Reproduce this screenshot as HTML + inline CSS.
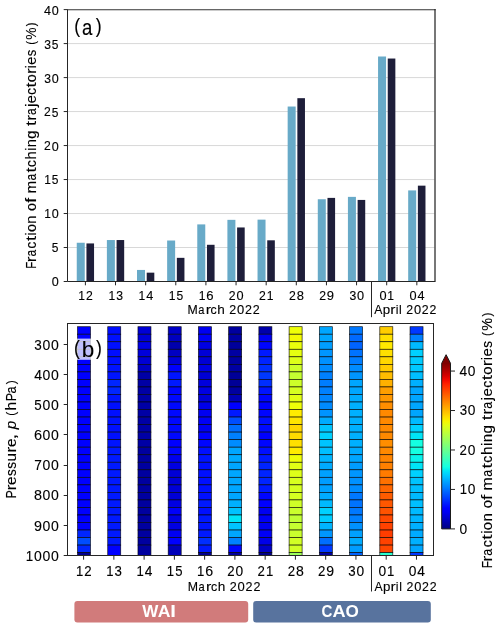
<!DOCTYPE html><html><head><meta charset="utf-8"><style>html,body{margin:0;padding:0;background:#fff;}svg{display:block;will-change:transform;}#w{width:500px;height:628px;overflow:hidden;}</style></head><body><div id="w"><svg width="500" height="628" viewBox="0 0 500 628" font-family="Liberation Sans, sans-serif">
<defs><filter id="bl" x="0" y="0" width="1" height="1"><feGaussianBlur stdDeviation="0.35"/></filter></defs>
<rect width="500" height="628" fill="#fff"/>
<g>
<rect width="500" height="628" fill="#fff"/>
<line x1="67.5" y1="247.51" x2="434.5" y2="247.51" stroke="#d4d4d4" stroke-width="0.9"/>
<line x1="67.5" y1="213.53" x2="434.5" y2="213.53" stroke="#d4d4d4" stroke-width="0.9"/>
<line x1="67.5" y1="179.54" x2="434.5" y2="179.54" stroke="#d4d4d4" stroke-width="0.9"/>
<line x1="67.5" y1="145.55" x2="434.5" y2="145.55" stroke="#d4d4d4" stroke-width="0.9"/>
<line x1="67.5" y1="111.56" x2="434.5" y2="111.56" stroke="#d4d4d4" stroke-width="0.9"/>
<line x1="67.5" y1="77.58" x2="434.5" y2="77.58" stroke="#d4d4d4" stroke-width="0.9"/>
<line x1="67.5" y1="43.59" x2="434.5" y2="43.59" stroke="#d4d4d4" stroke-width="0.9"/>
<rect x="76.75" y="242.75" width="8.0" height="38.75" fill="#68aac8"/>
<rect x="86.45" y="243.43" width="7.6" height="38.07" fill="#1e1e3a"/>
<rect x="106.88" y="240.04" width="8.0" height="41.46" fill="#68aac8"/>
<rect x="116.58" y="240.04" width="7.6" height="41.46" fill="#1e1e3a"/>
<rect x="137.01" y="269.94" width="8.0" height="11.56" fill="#68aac8"/>
<rect x="146.71" y="272.66" width="7.6" height="8.84" fill="#1e1e3a"/>
<rect x="167.14" y="240.51" width="8.0" height="40.99" fill="#68aac8"/>
<rect x="176.84" y="257.84" width="7.6" height="23.66" fill="#1e1e3a"/>
<rect x="197.27" y="224.40" width="8.0" height="57.10" fill="#68aac8"/>
<rect x="206.97" y="244.79" width="7.6" height="36.71" fill="#1e1e3a"/>
<rect x="227.40" y="219.85" width="8.0" height="61.65" fill="#68aac8"/>
<rect x="237.10" y="227.46" width="7.6" height="54.04" fill="#1e1e3a"/>
<rect x="257.53" y="219.64" width="8.0" height="61.86" fill="#68aac8"/>
<rect x="267.23" y="240.31" width="7.6" height="41.19" fill="#1e1e3a"/>
<rect x="287.66" y="106.53" width="8.0" height="174.97" fill="#68aac8"/>
<rect x="297.36" y="98.17" width="7.6" height="183.33" fill="#1e1e3a"/>
<rect x="317.79" y="199.25" width="8.0" height="82.25" fill="#68aac8"/>
<rect x="327.49" y="197.89" width="7.6" height="83.61" fill="#1e1e3a"/>
<rect x="347.92" y="196.87" width="8.0" height="84.63" fill="#68aac8"/>
<rect x="357.62" y="199.93" width="7.6" height="81.57" fill="#1e1e3a"/>
<rect x="378.05" y="56.50" width="8.0" height="225.00" fill="#68aac8"/>
<rect x="387.75" y="58.54" width="7.6" height="222.96" fill="#1e1e3a"/>
<rect x="408.18" y="190.41" width="8.0" height="91.09" fill="#68aac8"/>
<rect x="417.88" y="185.66" width="7.6" height="95.84" fill="#1e1e3a"/>
<path d="M67.5,281.5 V9.6 M67.5,281.5 H435.0" fill="none" stroke="#262626" stroke-width="1"/>
<line x1="67.0" y1="9.75" x2="435.6" y2="9.75" stroke="#333" stroke-width="1.15"/>
<line x1="435.0" y1="9.1" x2="435.0" y2="282.0" stroke="#262626" stroke-width="1.25"/>
<line x1="63.70" y1="281.50" x2="67.5" y2="281.50" stroke="#262626" stroke-width="1"/>
<g fill="#000" stroke="#000" stroke-width="0" font-size="20.0"><text transform="matrix(0.6312,0,0,0.6593,51.64,286.45)" stroke-width="0.186">0</text></g>
<line x1="63.70" y1="247.51" x2="67.5" y2="247.51" stroke="#262626" stroke-width="1"/>
<g fill="#000" stroke="#000" stroke-width="0" font-size="20.0"><text transform="matrix(0.6000,0,0,0.6599,51.78,252.47)" stroke-width="0.190">5</text></g>
<line x1="63.70" y1="213.53" x2="67.5" y2="213.53" stroke="#262626" stroke-width="1"/>
<g fill="#000" stroke="#000" stroke-width="0" font-size="20.0"><text transform="matrix(0.6000,0,0,0.6559,44.15,218.43)" stroke-width="0.191">1</text><text transform="matrix(0.6312,0,0,0.6593,51.64,218.48)" stroke-width="0.186">0</text></g>
<line x1="63.70" y1="179.54" x2="67.5" y2="179.54" stroke="#262626" stroke-width="1"/>
<g fill="#000" stroke="#000" stroke-width="0" font-size="20.0"><text transform="matrix(0.6000,0,0,0.6559,44.15,184.44)" stroke-width="0.191">1</text><text transform="matrix(0.6000,0,0,0.6599,51.78,184.49)" stroke-width="0.190">5</text></g>
<line x1="63.70" y1="145.55" x2="67.5" y2="145.55" stroke="#262626" stroke-width="1"/>
<g fill="#000" stroke="#000" stroke-width="0" font-size="20.0"><text transform="matrix(0.6066,0,0,0.6554,44.02,150.45)" stroke-width="0.190">2</text><text transform="matrix(0.6312,0,0,0.6593,51.64,150.50)" stroke-width="0.186">0</text></g>
<line x1="63.70" y1="111.56" x2="67.5" y2="111.56" stroke="#262626" stroke-width="1"/>
<g fill="#000" stroke="#000" stroke-width="0" font-size="20.0"><text transform="matrix(0.6066,0,0,0.6554,44.02,116.46)" stroke-width="0.190">2</text><text transform="matrix(0.6000,0,0,0.6599,51.78,116.52)" stroke-width="0.190">5</text></g>
<line x1="63.70" y1="77.58" x2="67.5" y2="77.58" stroke="#262626" stroke-width="1"/>
<g fill="#000" stroke="#000" stroke-width="0" font-size="20.0"><text transform="matrix(0.6063,0,0,0.6593,44.14,82.53)" stroke-width="0.190">3</text><text transform="matrix(0.6312,0,0,0.6593,51.64,82.53)" stroke-width="0.186">0</text></g>
<line x1="63.70" y1="43.59" x2="67.5" y2="43.59" stroke="#262626" stroke-width="1"/>
<g fill="#000" stroke="#000" stroke-width="0" font-size="20.0"><text transform="matrix(0.6063,0,0,0.6593,44.14,48.54)" stroke-width="0.190">3</text><text transform="matrix(0.6000,0,0,0.6599,51.78,48.54)" stroke-width="0.190">5</text></g>
<line x1="63.70" y1="9.60" x2="67.5" y2="9.60" stroke="#262626" stroke-width="1"/>
<g fill="#000" stroke="#000" stroke-width="0" font-size="20.0"><text transform="matrix(0.6297,0,0,0.6559,44.08,14.50)" stroke-width="0.187">4</text><text transform="matrix(0.6312,0,0,0.6593,51.64,14.55)" stroke-width="0.186">0</text></g>
<line x1="85.40" y1="281.5" x2="85.40" y2="285.30" stroke="#262626" stroke-width="1"/>
<g fill="#000" stroke="#000" stroke-width="0" font-size="20.0"><text transform="matrix(0.6050,0,0,0.6612,78.32,299.60)" stroke-width="0.190">1</text><text transform="matrix(0.6116,0,0,0.6607,85.90,299.60)" stroke-width="0.189">2</text></g>
<line x1="115.53" y1="281.5" x2="115.53" y2="285.30" stroke="#262626" stroke-width="1"/>
<g fill="#000" stroke="#000" stroke-width="0" font-size="20.0"><text transform="matrix(0.6050,0,0,0.6612,108.45,299.60)" stroke-width="0.190">1</text><text transform="matrix(0.6114,0,0,0.6646,116.15,299.65)" stroke-width="0.188">3</text></g>
<line x1="145.66" y1="281.5" x2="145.66" y2="285.30" stroke="#262626" stroke-width="1"/>
<g fill="#000" stroke="#000" stroke-width="0" font-size="20.0"><text transform="matrix(0.6050,0,0,0.6612,138.58,299.60)" stroke-width="0.190">1</text><text transform="matrix(0.6350,0,0,0.6612,146.21,299.60)" stroke-width="0.185">4</text></g>
<line x1="175.79" y1="281.5" x2="175.79" y2="285.30" stroke="#262626" stroke-width="1"/>
<g fill="#000" stroke="#000" stroke-width="0" font-size="20.0"><text transform="matrix(0.6050,0,0,0.6612,168.71,299.60)" stroke-width="0.190">1</text><text transform="matrix(0.6050,0,0,0.6652,176.41,299.65)" stroke-width="0.189">5</text></g>
<line x1="205.92" y1="281.5" x2="205.92" y2="285.30" stroke="#262626" stroke-width="1"/>
<g fill="#000" stroke="#000" stroke-width="0" font-size="20.0"><text transform="matrix(0.6050,0,0,0.6612,198.84,299.60)" stroke-width="0.190">1</text><text transform="matrix(0.6570,0,0,0.6646,206.31,299.65)" stroke-width="0.182">6</text></g>
<line x1="236.05" y1="281.5" x2="236.05" y2="285.30" stroke="#262626" stroke-width="1"/>
<g fill="#000" stroke="#000" stroke-width="0" font-size="20.0"><text transform="matrix(0.6116,0,0,0.6607,228.85,299.60)" stroke-width="0.189">2</text><text transform="matrix(0.6365,0,0,0.6646,236.53,299.65)" stroke-width="0.184">0</text></g>
<line x1="266.18" y1="281.5" x2="266.18" y2="285.30" stroke="#262626" stroke-width="1"/>
<g fill="#000" stroke="#000" stroke-width="0" font-size="20.0"><text transform="matrix(0.6116,0,0,0.6607,258.98,299.60)" stroke-width="0.189">2</text><text transform="matrix(0.6050,0,0,0.6612,266.80,299.60)" stroke-width="0.190">1</text></g>
<line x1="296.31" y1="281.5" x2="296.31" y2="285.30" stroke="#262626" stroke-width="1"/>
<g fill="#000" stroke="#000" stroke-width="0" font-size="20.0"><text transform="matrix(0.6116,0,0,0.6607,289.11,299.60)" stroke-width="0.189">2</text><text transform="matrix(0.6501,0,0,0.6646,296.71,299.65)" stroke-width="0.183">8</text></g>
<line x1="326.44" y1="281.5" x2="326.44" y2="285.30" stroke="#262626" stroke-width="1"/>
<g fill="#000" stroke="#000" stroke-width="0" font-size="20.0"><text transform="matrix(0.6116,0,0,0.6607,319.24,299.60)" stroke-width="0.189">2</text><text transform="matrix(0.6505,0,0,0.6646,326.84,299.65)" stroke-width="0.182">9</text></g>
<line x1="356.57" y1="281.5" x2="356.57" y2="285.30" stroke="#262626" stroke-width="1"/>
<g fill="#000" stroke="#000" stroke-width="0" font-size="20.0"><text transform="matrix(0.6114,0,0,0.6646,349.49,299.65)" stroke-width="0.188">3</text><text transform="matrix(0.6365,0,0,0.6646,357.05,299.65)" stroke-width="0.184">0</text></g>
<line x1="386.70" y1="281.5" x2="386.70" y2="285.30" stroke="#262626" stroke-width="1"/>
<g fill="#000" stroke="#000" stroke-width="0" font-size="20.0"><text transform="matrix(0.6365,0,0,0.6646,379.48,299.65)" stroke-width="0.184">0</text><text transform="matrix(0.6050,0,0,0.6612,387.32,299.60)" stroke-width="0.190">1</text></g>
<line x1="416.83" y1="281.5" x2="416.83" y2="285.30" stroke="#262626" stroke-width="1"/>
<g fill="#000" stroke="#000" stroke-width="0" font-size="20.0"><text transform="matrix(0.6365,0,0,0.6646,409.61,299.65)" stroke-width="0.184">0</text><text transform="matrix(0.6350,0,0,0.6612,417.38,299.60)" stroke-width="0.185">4</text></g>
<line x1="371.5" y1="281.5" x2="371.5" y2="317.2" stroke="#262626" stroke-width="1"/>
<g fill="#000" stroke="#000" stroke-width="0" font-size="20.0"><text transform="matrix(0.6134,0,0,0.6401,187.62,313.60)" stroke-width="0.191">M</text><text transform="matrix(0.5520,0,0,0.6325,198.33,313.66)" stroke-width="0.203">a</text><text transform="matrix(0.7910,0,0,0.6274,205.69,313.60)" stroke-width="0.169">r</text><text transform="matrix(0.6180,0,0,0.6325,210.60,313.66)" stroke-width="0.192">c</text><text transform="matrix(0.6769,0,0,0.6342,217.37,313.60)" stroke-width="0.183">h</text> <text transform="matrix(0.6248,0,0,0.6396,229.27,313.60)" stroke-width="0.190">2</text><text transform="matrix(0.6502,0,0,0.6433,237.12,313.65)" stroke-width="0.186">0</text><text transform="matrix(0.6248,0,0,0.6396,245.00,313.60)" stroke-width="0.190">2</text><text transform="matrix(0.6248,0,0,0.6396,252.87,313.60)" stroke-width="0.190">2</text></g>
<g fill="#000" stroke="#000" stroke-width="0" font-size="20.0"><text transform="matrix(0.6100,0,0,0.6454,374.30,313.70)" stroke-width="0.191">A</text><text transform="matrix(0.6642,0,0,0.6263,382.76,313.63)" stroke-width="0.186">p</text><text transform="matrix(0.7808,0,0,0.6326,390.35,313.70)" stroke-width="0.170">r</text><text transform="matrix(0.6100,0,0,0.6394,395.65,313.70)" stroke-width="0.192">i</text><text transform="matrix(0.6100,0,0,0.6394,399.04,313.70)" stroke-width="0.192">l</text> <text transform="matrix(0.6167,0,0,0.6449,406.24,313.70)" stroke-width="0.190">2</text><text transform="matrix(0.6418,0,0,0.6487,413.98,313.75)" stroke-width="0.186">0</text><text transform="matrix(0.6167,0,0,0.6449,421.76,313.70)" stroke-width="0.190">2</text><text transform="matrix(0.6167,0,0,0.6449,429.53,313.70)" stroke-width="0.190">2</text></g>
<g fill="#000" stroke="#000" stroke-width="0" font-size="20.0"><text transform="matrix(0.8830,0,0,0.9899,74.14,33.45)" stroke-width="0.128">(</text><text transform="matrix(0.9289,0,0,1.0873,82.05,34.99)" stroke-width="0.119">a</text><text transform="matrix(0.8830,0,0,0.9899,95.87,33.45)" stroke-width="0.128">)</text></g>
<g transform="translate(36.00,267.80) rotate(-90)" fill="#000" stroke="#000" stroke-width="0" font-size="20.0"><text transform="matrix(0.5773,0,0,0.7141,-0.92,-0.00)" stroke-width="0.186">F</text><text transform="matrix(0.8621,0,0,0.7000,5.51,0.00)" stroke-width="0.154">r</text><text transform="matrix(0.6016,0,0,0.7057,11.29,0.06)" stroke-width="0.184">a</text><text transform="matrix(0.6735,0,0,0.7057,19.42,0.06)" stroke-width="0.174">c</text><text transform="matrix(0.9112,0,0,0.7159,26.68,-0.14)" stroke-width="0.148">t</text><text transform="matrix(0.6735,0,0,0.7076,32.31,0.00)" stroke-width="0.174">i</text><text transform="matrix(0.7160,0,0,0.7057,35.81,0.06)" stroke-width="0.169">o</text><text transform="matrix(0.7290,0,0,0.7000,44.15,0.00)" stroke-width="0.168">n</text> <text transform="matrix(0.7160,0,0,0.7057,56.87,0.06)" stroke-width="0.169">o</text><text transform="matrix(0.8895,0,0,0.7076,64.95,0.00)" stroke-width="0.150">f</text> <text transform="matrix(0.7643,0,0,0.7000,74.19,0.00)" stroke-width="0.164">m</text><text transform="matrix(0.6016,0,0,0.7057,87.42,0.06)" stroke-width="0.184">a</text><text transform="matrix(0.9112,0,0,0.7159,95.41,-0.14)" stroke-width="0.148">t</text><text transform="matrix(0.6735,0,0,0.7057,100.83,0.06)" stroke-width="0.174">c</text><text transform="matrix(0.7376,0,0,0.7076,108.21,0.00)" stroke-width="0.166">h</text><text transform="matrix(0.6735,0,0,0.7076,116.98,0.00)" stroke-width="0.174">i</text><text transform="matrix(0.7290,0,0,0.7000,120.58,0.00)" stroke-width="0.168">n</text><text transform="matrix(0.7334,0,0,0.6977,129.01,-0.10)" stroke-width="0.168">g</text> <text transform="matrix(0.9112,0,0,0.7159,141.75,-0.14)" stroke-width="0.148">t</text><text transform="matrix(0.8621,0,0,0.7000,147.06,0.00)" stroke-width="0.154">r</text><text transform="matrix(0.6016,0,0,0.7057,152.83,0.06)" stroke-width="0.184">a</text><text transform="matrix(0.7670,0,0,0.7003,160.87,-0.11)" stroke-width="0.164">j</text><text transform="matrix(0.7308,0,0,0.7057,164.66,0.06)" stroke-width="0.167">e</text><text transform="matrix(0.6735,0,0,0.7057,172.99,0.06)" stroke-width="0.174">c</text><text transform="matrix(0.9112,0,0,0.7159,180.26,-0.14)" stroke-width="0.148">t</text><text transform="matrix(0.7160,0,0,0.7057,185.64,0.06)" stroke-width="0.169">o</text><text transform="matrix(0.8621,0,0,0.7000,193.81,0.00)" stroke-width="0.154">r</text><text transform="matrix(0.6735,0,0,0.7076,199.66,0.00)" stroke-width="0.174">i</text><text transform="matrix(0.7308,0,0,0.7057,203.15,0.06)" stroke-width="0.167">e</text><text transform="matrix(0.6503,0,0,0.7122,211.64,0.06)" stroke-width="0.176">s</text> <text transform="matrix(0.5718,0,0,0.6425,223.04,-0.94)" stroke-width="0.198">(</text><text transform="matrix(0.6899,0,0,0.7280,228.10,0.13)" stroke-width="0.169">%</text><text transform="matrix(0.5718,0,0,0.6425,241.66,-0.94)" stroke-width="0.198">)</text></g>
<rect x="77.50" y="326.70" width="13.0" height="7.53" fill="#0000ff" stroke="#000" stroke-width="0.7" stroke-opacity="0.85"/>
<rect x="77.50" y="334.23" width="13.0" height="7.53" fill="#0000ff" stroke="#000" stroke-width="0.7" stroke-opacity="0.85"/>
<rect x="77.50" y="341.76" width="13.0" height="7.53" fill="#0000ff" stroke="#000" stroke-width="0.7" stroke-opacity="0.85"/>
<rect x="77.50" y="349.29" width="13.0" height="7.53" fill="#0000ff" stroke="#000" stroke-width="0.7" stroke-opacity="0.85"/>
<rect x="77.50" y="356.82" width="13.0" height="7.53" fill="#0000ff" stroke="#000" stroke-width="0.7" stroke-opacity="0.85"/>
<rect x="77.50" y="364.36" width="13.0" height="7.53" fill="#0000ff" stroke="#000" stroke-width="0.7" stroke-opacity="0.85"/>
<rect x="77.50" y="371.89" width="13.0" height="7.53" fill="#0000ff" stroke="#000" stroke-width="0.7" stroke-opacity="0.85"/>
<rect x="77.50" y="379.42" width="13.0" height="7.53" fill="#0000ff" stroke="#000" stroke-width="0.7" stroke-opacity="0.85"/>
<rect x="77.50" y="386.95" width="13.0" height="7.53" fill="#0000ff" stroke="#000" stroke-width="0.7" stroke-opacity="0.85"/>
<rect x="77.50" y="394.48" width="13.0" height="7.53" fill="#0000ff" stroke="#000" stroke-width="0.7" stroke-opacity="0.85"/>
<rect x="77.50" y="402.01" width="13.0" height="7.53" fill="#0000ff" stroke="#000" stroke-width="0.7" stroke-opacity="0.85"/>
<rect x="77.50" y="409.54" width="13.0" height="7.53" fill="#0000ff" stroke="#000" stroke-width="0.7" stroke-opacity="0.85"/>
<rect x="77.50" y="417.07" width="13.0" height="7.53" fill="#0000ff" stroke="#000" stroke-width="0.7" stroke-opacity="0.85"/>
<rect x="77.50" y="424.60" width="13.0" height="7.53" fill="#0000ff" stroke="#000" stroke-width="0.7" stroke-opacity="0.85"/>
<rect x="77.50" y="432.13" width="13.0" height="7.53" fill="#0000ff" stroke="#000" stroke-width="0.7" stroke-opacity="0.85"/>
<rect x="77.50" y="439.66" width="13.0" height="7.53" fill="#0000ff" stroke="#000" stroke-width="0.7" stroke-opacity="0.85"/>
<rect x="77.50" y="447.20" width="13.0" height="7.53" fill="#0000ff" stroke="#000" stroke-width="0.7" stroke-opacity="0.85"/>
<rect x="77.50" y="454.73" width="13.0" height="7.53" fill="#0000ff" stroke="#000" stroke-width="0.7" stroke-opacity="0.85"/>
<rect x="77.50" y="462.26" width="13.0" height="7.53" fill="#0000ff" stroke="#000" stroke-width="0.7" stroke-opacity="0.85"/>
<rect x="77.50" y="469.79" width="13.0" height="7.53" fill="#0000ff" stroke="#000" stroke-width="0.7" stroke-opacity="0.85"/>
<rect x="77.50" y="477.32" width="13.0" height="7.53" fill="#0000ff" stroke="#000" stroke-width="0.7" stroke-opacity="0.85"/>
<rect x="77.50" y="484.85" width="13.0" height="7.53" fill="#0000ff" stroke="#000" stroke-width="0.7" stroke-opacity="0.85"/>
<rect x="77.50" y="492.38" width="13.0" height="7.53" fill="#0000ff" stroke="#000" stroke-width="0.7" stroke-opacity="0.85"/>
<rect x="77.50" y="499.91" width="13.0" height="7.53" fill="#0000ff" stroke="#000" stroke-width="0.7" stroke-opacity="0.85"/>
<rect x="77.50" y="507.44" width="13.0" height="7.53" fill="#0000ff" stroke="#000" stroke-width="0.7" stroke-opacity="0.85"/>
<rect x="77.50" y="514.98" width="13.0" height="7.53" fill="#0000ff" stroke="#000" stroke-width="0.7" stroke-opacity="0.85"/>
<rect x="77.50" y="522.51" width="13.0" height="7.53" fill="#0000ff" stroke="#000" stroke-width="0.7" stroke-opacity="0.85"/>
<rect x="77.50" y="530.04" width="13.0" height="7.53" fill="#0026ff" stroke="#000" stroke-width="0.7" stroke-opacity="0.85"/>
<rect x="77.50" y="537.57" width="13.0" height="7.53" fill="#004dff" stroke="#000" stroke-width="0.7" stroke-opacity="0.85"/>
<rect x="77.50" y="545.10" width="13.0" height="7.53" fill="#0026ff" stroke="#000" stroke-width="0.7" stroke-opacity="0.85"/>
<rect x="77.50" y="552.63" width="13.0" height="2.87" fill="#00008e" stroke="#000" stroke-width="0.7" stroke-opacity="0.85"/>
<rect x="107.73" y="326.70" width="13.0" height="7.53" fill="#000dff" stroke="#000" stroke-width="0.7" stroke-opacity="0.85"/>
<rect x="107.73" y="334.23" width="13.0" height="7.53" fill="#000fff" stroke="#000" stroke-width="0.7" stroke-opacity="0.85"/>
<rect x="107.73" y="341.76" width="13.0" height="7.53" fill="#000fff" stroke="#000" stroke-width="0.7" stroke-opacity="0.85"/>
<rect x="107.73" y="349.29" width="13.0" height="7.53" fill="#000dff" stroke="#000" stroke-width="0.7" stroke-opacity="0.85"/>
<rect x="107.73" y="356.82" width="13.0" height="7.53" fill="#000fff" stroke="#000" stroke-width="0.7" stroke-opacity="0.85"/>
<rect x="107.73" y="364.36" width="13.0" height="7.53" fill="#0012ff" stroke="#000" stroke-width="0.7" stroke-opacity="0.85"/>
<rect x="107.73" y="371.89" width="13.0" height="7.53" fill="#0014ff" stroke="#000" stroke-width="0.7" stroke-opacity="0.85"/>
<rect x="107.73" y="379.42" width="13.0" height="7.53" fill="#0026ff" stroke="#000" stroke-width="0.7" stroke-opacity="0.85"/>
<rect x="107.73" y="386.95" width="13.0" height="7.53" fill="#0026ff" stroke="#000" stroke-width="0.7" stroke-opacity="0.85"/>
<rect x="107.73" y="394.48" width="13.0" height="7.53" fill="#0014ff" stroke="#000" stroke-width="0.7" stroke-opacity="0.85"/>
<rect x="107.73" y="402.01" width="13.0" height="7.53" fill="#000fff" stroke="#000" stroke-width="0.7" stroke-opacity="0.85"/>
<rect x="107.73" y="409.54" width="13.0" height="7.53" fill="#000fff" stroke="#000" stroke-width="0.7" stroke-opacity="0.85"/>
<rect x="107.73" y="417.07" width="13.0" height="7.53" fill="#0012ff" stroke="#000" stroke-width="0.7" stroke-opacity="0.85"/>
<rect x="107.73" y="424.60" width="13.0" height="7.53" fill="#000fff" stroke="#000" stroke-width="0.7" stroke-opacity="0.85"/>
<rect x="107.73" y="432.13" width="13.0" height="7.53" fill="#000fff" stroke="#000" stroke-width="0.7" stroke-opacity="0.85"/>
<rect x="107.73" y="439.66" width="13.0" height="7.53" fill="#0014ff" stroke="#000" stroke-width="0.7" stroke-opacity="0.85"/>
<rect x="107.73" y="447.20" width="13.0" height="7.53" fill="#0019ff" stroke="#000" stroke-width="0.7" stroke-opacity="0.85"/>
<rect x="107.73" y="454.73" width="13.0" height="7.53" fill="#0019ff" stroke="#000" stroke-width="0.7" stroke-opacity="0.85"/>
<rect x="107.73" y="462.26" width="13.0" height="7.53" fill="#0019ff" stroke="#000" stroke-width="0.7" stroke-opacity="0.85"/>
<rect x="107.73" y="469.79" width="13.0" height="7.53" fill="#0019ff" stroke="#000" stroke-width="0.7" stroke-opacity="0.85"/>
<rect x="107.73" y="477.32" width="13.0" height="7.53" fill="#0019ff" stroke="#000" stroke-width="0.7" stroke-opacity="0.85"/>
<rect x="107.73" y="484.85" width="13.0" height="7.53" fill="#0019ff" stroke="#000" stroke-width="0.7" stroke-opacity="0.85"/>
<rect x="107.73" y="492.38" width="13.0" height="7.53" fill="#0019ff" stroke="#000" stroke-width="0.7" stroke-opacity="0.85"/>
<rect x="107.73" y="499.91" width="13.0" height="7.53" fill="#0019ff" stroke="#000" stroke-width="0.7" stroke-opacity="0.85"/>
<rect x="107.73" y="507.44" width="13.0" height="7.53" fill="#0019ff" stroke="#000" stroke-width="0.7" stroke-opacity="0.85"/>
<rect x="107.73" y="514.98" width="13.0" height="7.53" fill="#0019ff" stroke="#000" stroke-width="0.7" stroke-opacity="0.85"/>
<rect x="107.73" y="522.51" width="13.0" height="7.53" fill="#0019ff" stroke="#000" stroke-width="0.7" stroke-opacity="0.85"/>
<rect x="107.73" y="530.04" width="13.0" height="7.53" fill="#0019ff" stroke="#000" stroke-width="0.7" stroke-opacity="0.85"/>
<rect x="107.73" y="537.57" width="13.0" height="7.53" fill="#0019ff" stroke="#000" stroke-width="0.7" stroke-opacity="0.85"/>
<rect x="107.73" y="545.10" width="13.0" height="10.40" fill="#0000ff" stroke="#000" stroke-width="0.7" stroke-opacity="0.85"/>
<rect x="137.96" y="326.70" width="13.0" height="7.53" fill="#0000d6" stroke="#000" stroke-width="0.7" stroke-opacity="0.85"/>
<rect x="137.96" y="334.23" width="13.0" height="7.53" fill="#0000d6" stroke="#000" stroke-width="0.7" stroke-opacity="0.85"/>
<rect x="137.96" y="341.76" width="13.0" height="7.53" fill="#0000e5" stroke="#000" stroke-width="0.7" stroke-opacity="0.85"/>
<rect x="137.96" y="349.29" width="13.0" height="7.53" fill="#0000dc" stroke="#000" stroke-width="0.7" stroke-opacity="0.85"/>
<rect x="137.96" y="356.82" width="13.0" height="7.53" fill="#0000d4" stroke="#000" stroke-width="0.7" stroke-opacity="0.85"/>
<rect x="137.96" y="364.36" width="13.0" height="7.53" fill="#0000c2" stroke="#000" stroke-width="0.7" stroke-opacity="0.85"/>
<rect x="137.96" y="371.89" width="13.0" height="7.53" fill="#0000a5" stroke="#000" stroke-width="0.7" stroke-opacity="0.85"/>
<rect x="137.96" y="379.42" width="13.0" height="7.53" fill="#0000a5" stroke="#000" stroke-width="0.7" stroke-opacity="0.85"/>
<rect x="137.96" y="386.95" width="13.0" height="7.53" fill="#0000a5" stroke="#000" stroke-width="0.7" stroke-opacity="0.85"/>
<rect x="137.96" y="394.48" width="13.0" height="7.53" fill="#0000a5" stroke="#000" stroke-width="0.7" stroke-opacity="0.85"/>
<rect x="137.96" y="402.01" width="13.0" height="7.53" fill="#0000a5" stroke="#000" stroke-width="0.7" stroke-opacity="0.85"/>
<rect x="137.96" y="409.54" width="13.0" height="7.53" fill="#0000a5" stroke="#000" stroke-width="0.7" stroke-opacity="0.85"/>
<rect x="137.96" y="417.07" width="13.0" height="7.53" fill="#0000a5" stroke="#000" stroke-width="0.7" stroke-opacity="0.85"/>
<rect x="137.96" y="424.60" width="13.0" height="7.53" fill="#0000a5" stroke="#000" stroke-width="0.7" stroke-opacity="0.85"/>
<rect x="137.96" y="432.13" width="13.0" height="7.53" fill="#0000a5" stroke="#000" stroke-width="0.7" stroke-opacity="0.85"/>
<rect x="137.96" y="439.66" width="13.0" height="7.53" fill="#0000a5" stroke="#000" stroke-width="0.7" stroke-opacity="0.85"/>
<rect x="137.96" y="447.20" width="13.0" height="7.53" fill="#00009f" stroke="#000" stroke-width="0.7" stroke-opacity="0.85"/>
<rect x="137.96" y="454.73" width="13.0" height="7.53" fill="#00009f" stroke="#000" stroke-width="0.7" stroke-opacity="0.85"/>
<rect x="137.96" y="462.26" width="13.0" height="7.53" fill="#00009f" stroke="#000" stroke-width="0.7" stroke-opacity="0.85"/>
<rect x="137.96" y="469.79" width="13.0" height="7.53" fill="#00009f" stroke="#000" stroke-width="0.7" stroke-opacity="0.85"/>
<rect x="137.96" y="477.32" width="13.0" height="7.53" fill="#00009f" stroke="#000" stroke-width="0.7" stroke-opacity="0.85"/>
<rect x="137.96" y="484.85" width="13.0" height="7.53" fill="#00009f" stroke="#000" stroke-width="0.7" stroke-opacity="0.85"/>
<rect x="137.96" y="492.38" width="13.0" height="7.53" fill="#00009f" stroke="#000" stroke-width="0.7" stroke-opacity="0.85"/>
<rect x="137.96" y="499.91" width="13.0" height="7.53" fill="#00009f" stroke="#000" stroke-width="0.7" stroke-opacity="0.85"/>
<rect x="137.96" y="507.44" width="13.0" height="7.53" fill="#00009f" stroke="#000" stroke-width="0.7" stroke-opacity="0.85"/>
<rect x="137.96" y="514.98" width="13.0" height="7.53" fill="#00009f" stroke="#000" stroke-width="0.7" stroke-opacity="0.85"/>
<rect x="137.96" y="522.51" width="13.0" height="7.53" fill="#00009f" stroke="#000" stroke-width="0.7" stroke-opacity="0.85"/>
<rect x="137.96" y="530.04" width="13.0" height="7.53" fill="#00009f" stroke="#000" stroke-width="0.7" stroke-opacity="0.85"/>
<rect x="137.96" y="537.57" width="13.0" height="7.53" fill="#00009f" stroke="#000" stroke-width="0.7" stroke-opacity="0.85"/>
<rect x="137.96" y="545.10" width="13.0" height="10.40" fill="#00009f" stroke="#000" stroke-width="0.7" stroke-opacity="0.85"/>
<rect x="168.19" y="326.70" width="13.0" height="7.53" fill="#0000c8" stroke="#000" stroke-width="0.7" stroke-opacity="0.85"/>
<rect x="168.19" y="334.23" width="13.0" height="7.53" fill="#0000bf" stroke="#000" stroke-width="0.7" stroke-opacity="0.85"/>
<rect x="168.19" y="341.76" width="13.0" height="7.53" fill="#0000ab" stroke="#000" stroke-width="0.7" stroke-opacity="0.85"/>
<rect x="168.19" y="349.29" width="13.0" height="7.53" fill="#0000c2" stroke="#000" stroke-width="0.7" stroke-opacity="0.85"/>
<rect x="168.19" y="356.82" width="13.0" height="7.53" fill="#0000d6" stroke="#000" stroke-width="0.7" stroke-opacity="0.85"/>
<rect x="168.19" y="364.36" width="13.0" height="7.53" fill="#0000fc" stroke="#000" stroke-width="0.7" stroke-opacity="0.85"/>
<rect x="168.19" y="371.89" width="13.0" height="7.53" fill="#0014ff" stroke="#000" stroke-width="0.7" stroke-opacity="0.85"/>
<rect x="168.19" y="379.42" width="13.0" height="7.53" fill="#0019ff" stroke="#000" stroke-width="0.7" stroke-opacity="0.85"/>
<rect x="168.19" y="386.95" width="13.0" height="7.53" fill="#0005ff" stroke="#000" stroke-width="0.7" stroke-opacity="0.85"/>
<rect x="168.19" y="394.48" width="13.0" height="7.53" fill="#0008ff" stroke="#000" stroke-width="0.7" stroke-opacity="0.85"/>
<rect x="168.19" y="402.01" width="13.0" height="7.53" fill="#0008ff" stroke="#000" stroke-width="0.7" stroke-opacity="0.85"/>
<rect x="168.19" y="409.54" width="13.0" height="7.53" fill="#0008ff" stroke="#000" stroke-width="0.7" stroke-opacity="0.85"/>
<rect x="168.19" y="417.07" width="13.0" height="7.53" fill="#0008ff" stroke="#000" stroke-width="0.7" stroke-opacity="0.85"/>
<rect x="168.19" y="424.60" width="13.0" height="7.53" fill="#0008ff" stroke="#000" stroke-width="0.7" stroke-opacity="0.85"/>
<rect x="168.19" y="432.13" width="13.0" height="7.53" fill="#0008ff" stroke="#000" stroke-width="0.7" stroke-opacity="0.85"/>
<rect x="168.19" y="439.66" width="13.0" height="7.53" fill="#0000ff" stroke="#000" stroke-width="0.7" stroke-opacity="0.85"/>
<rect x="168.19" y="447.20" width="13.0" height="7.53" fill="#0005ff" stroke="#000" stroke-width="0.7" stroke-opacity="0.85"/>
<rect x="168.19" y="454.73" width="13.0" height="7.53" fill="#0000ee" stroke="#000" stroke-width="0.7" stroke-opacity="0.85"/>
<rect x="168.19" y="462.26" width="13.0" height="7.53" fill="#0000e2" stroke="#000" stroke-width="0.7" stroke-opacity="0.85"/>
<rect x="168.19" y="469.79" width="13.0" height="7.53" fill="#0000d6" stroke="#000" stroke-width="0.7" stroke-opacity="0.85"/>
<rect x="168.19" y="477.32" width="13.0" height="7.53" fill="#0000d6" stroke="#000" stroke-width="0.7" stroke-opacity="0.85"/>
<rect x="168.19" y="484.85" width="13.0" height="7.53" fill="#0000d6" stroke="#000" stroke-width="0.7" stroke-opacity="0.85"/>
<rect x="168.19" y="492.38" width="13.0" height="7.53" fill="#0000d6" stroke="#000" stroke-width="0.7" stroke-opacity="0.85"/>
<rect x="168.19" y="499.91" width="13.0" height="7.53" fill="#0000e2" stroke="#000" stroke-width="0.7" stroke-opacity="0.85"/>
<rect x="168.19" y="507.44" width="13.0" height="7.53" fill="#0000f9" stroke="#000" stroke-width="0.7" stroke-opacity="0.85"/>
<rect x="168.19" y="514.98" width="13.0" height="7.53" fill="#0000e2" stroke="#000" stroke-width="0.7" stroke-opacity="0.85"/>
<rect x="168.19" y="522.51" width="13.0" height="7.53" fill="#0000e2" stroke="#000" stroke-width="0.7" stroke-opacity="0.85"/>
<rect x="168.19" y="530.04" width="13.0" height="7.53" fill="#0000f3" stroke="#000" stroke-width="0.7" stroke-opacity="0.85"/>
<rect x="168.19" y="537.57" width="13.0" height="7.53" fill="#0000ff" stroke="#000" stroke-width="0.7" stroke-opacity="0.85"/>
<rect x="168.19" y="545.10" width="13.0" height="10.40" fill="#0000b9" stroke="#000" stroke-width="0.7" stroke-opacity="0.85"/>
<rect x="198.42" y="326.70" width="13.0" height="7.53" fill="#0000f1" stroke="#000" stroke-width="0.7" stroke-opacity="0.85"/>
<rect x="198.42" y="334.23" width="13.0" height="7.53" fill="#0000f6" stroke="#000" stroke-width="0.7" stroke-opacity="0.85"/>
<rect x="198.42" y="341.76" width="13.0" height="7.53" fill="#0000e2" stroke="#000" stroke-width="0.7" stroke-opacity="0.85"/>
<rect x="198.42" y="349.29" width="13.0" height="7.53" fill="#0000d6" stroke="#000" stroke-width="0.7" stroke-opacity="0.85"/>
<rect x="198.42" y="356.82" width="13.0" height="7.53" fill="#0000d4" stroke="#000" stroke-width="0.7" stroke-opacity="0.85"/>
<rect x="198.42" y="364.36" width="13.0" height="7.53" fill="#0000e2" stroke="#000" stroke-width="0.7" stroke-opacity="0.85"/>
<rect x="198.42" y="371.89" width="13.0" height="7.53" fill="#0000d4" stroke="#000" stroke-width="0.7" stroke-opacity="0.85"/>
<rect x="198.42" y="379.42" width="13.0" height="7.53" fill="#0000dc" stroke="#000" stroke-width="0.7" stroke-opacity="0.85"/>
<rect x="198.42" y="386.95" width="13.0" height="7.53" fill="#0000e2" stroke="#000" stroke-width="0.7" stroke-opacity="0.85"/>
<rect x="198.42" y="394.48" width="13.0" height="7.53" fill="#0000d6" stroke="#000" stroke-width="0.7" stroke-opacity="0.85"/>
<rect x="198.42" y="402.01" width="13.0" height="7.53" fill="#0000e8" stroke="#000" stroke-width="0.7" stroke-opacity="0.85"/>
<rect x="198.42" y="409.54" width="13.0" height="7.53" fill="#0000f1" stroke="#000" stroke-width="0.7" stroke-opacity="0.85"/>
<rect x="198.42" y="417.07" width="13.0" height="7.53" fill="#0000f6" stroke="#000" stroke-width="0.7" stroke-opacity="0.85"/>
<rect x="198.42" y="424.60" width="13.0" height="7.53" fill="#0000f1" stroke="#000" stroke-width="0.7" stroke-opacity="0.85"/>
<rect x="198.42" y="432.13" width="13.0" height="7.53" fill="#0000ff" stroke="#000" stroke-width="0.7" stroke-opacity="0.85"/>
<rect x="198.42" y="439.66" width="13.0" height="7.53" fill="#0005ff" stroke="#000" stroke-width="0.7" stroke-opacity="0.85"/>
<rect x="198.42" y="447.20" width="13.0" height="7.53" fill="#000fff" stroke="#000" stroke-width="0.7" stroke-opacity="0.85"/>
<rect x="198.42" y="454.73" width="13.0" height="7.53" fill="#0014ff" stroke="#000" stroke-width="0.7" stroke-opacity="0.85"/>
<rect x="198.42" y="462.26" width="13.0" height="7.53" fill="#000fff" stroke="#000" stroke-width="0.7" stroke-opacity="0.85"/>
<rect x="198.42" y="469.79" width="13.0" height="7.53" fill="#000fff" stroke="#000" stroke-width="0.7" stroke-opacity="0.85"/>
<rect x="198.42" y="477.32" width="13.0" height="7.53" fill="#000fff" stroke="#000" stroke-width="0.7" stroke-opacity="0.85"/>
<rect x="198.42" y="484.85" width="13.0" height="7.53" fill="#000fff" stroke="#000" stroke-width="0.7" stroke-opacity="0.85"/>
<rect x="198.42" y="492.38" width="13.0" height="7.53" fill="#000fff" stroke="#000" stroke-width="0.7" stroke-opacity="0.85"/>
<rect x="198.42" y="499.91" width="13.0" height="7.53" fill="#0019ff" stroke="#000" stroke-width="0.7" stroke-opacity="0.85"/>
<rect x="198.42" y="507.44" width="13.0" height="7.53" fill="#000fff" stroke="#000" stroke-width="0.7" stroke-opacity="0.85"/>
<rect x="198.42" y="514.98" width="13.0" height="7.53" fill="#0019ff" stroke="#000" stroke-width="0.7" stroke-opacity="0.85"/>
<rect x="198.42" y="522.51" width="13.0" height="7.53" fill="#0014ff" stroke="#000" stroke-width="0.7" stroke-opacity="0.85"/>
<rect x="198.42" y="530.04" width="13.0" height="7.53" fill="#0019ff" stroke="#000" stroke-width="0.7" stroke-opacity="0.85"/>
<rect x="198.42" y="537.57" width="13.0" height="7.53" fill="#002eff" stroke="#000" stroke-width="0.7" stroke-opacity="0.85"/>
<rect x="198.42" y="545.10" width="13.0" height="7.53" fill="#0019ff" stroke="#000" stroke-width="0.7" stroke-opacity="0.85"/>
<rect x="198.42" y="552.63" width="13.0" height="2.87" fill="#00008e" stroke="#000" stroke-width="0.7" stroke-opacity="0.85"/>
<rect x="228.65" y="326.70" width="13.0" height="7.53" fill="#00009f" stroke="#000" stroke-width="0.7" stroke-opacity="0.85"/>
<rect x="228.65" y="334.23" width="13.0" height="7.53" fill="#0000a2" stroke="#000" stroke-width="0.7" stroke-opacity="0.85"/>
<rect x="228.65" y="341.76" width="13.0" height="7.53" fill="#00009a" stroke="#000" stroke-width="0.7" stroke-opacity="0.85"/>
<rect x="228.65" y="349.29" width="13.0" height="7.53" fill="#0000a2" stroke="#000" stroke-width="0.7" stroke-opacity="0.85"/>
<rect x="228.65" y="356.82" width="13.0" height="7.53" fill="#00009f" stroke="#000" stroke-width="0.7" stroke-opacity="0.85"/>
<rect x="228.65" y="364.36" width="13.0" height="7.53" fill="#0000a2" stroke="#000" stroke-width="0.7" stroke-opacity="0.85"/>
<rect x="228.65" y="371.89" width="13.0" height="7.53" fill="#000097" stroke="#000" stroke-width="0.7" stroke-opacity="0.85"/>
<rect x="228.65" y="379.42" width="13.0" height="7.53" fill="#000097" stroke="#000" stroke-width="0.7" stroke-opacity="0.85"/>
<rect x="228.65" y="386.95" width="13.0" height="7.53" fill="#00009f" stroke="#000" stroke-width="0.7" stroke-opacity="0.85"/>
<rect x="228.65" y="394.48" width="13.0" height="7.53" fill="#0000b4" stroke="#000" stroke-width="0.7" stroke-opacity="0.85"/>
<rect x="228.65" y="402.01" width="13.0" height="7.53" fill="#0000ff" stroke="#000" stroke-width="0.7" stroke-opacity="0.85"/>
<rect x="228.65" y="409.54" width="13.0" height="7.53" fill="#0019ff" stroke="#000" stroke-width="0.7" stroke-opacity="0.85"/>
<rect x="228.65" y="417.07" width="13.0" height="7.53" fill="#004dff" stroke="#000" stroke-width="0.7" stroke-opacity="0.85"/>
<rect x="228.65" y="424.60" width="13.0" height="7.53" fill="#006eff" stroke="#000" stroke-width="0.7" stroke-opacity="0.85"/>
<rect x="228.65" y="432.13" width="13.0" height="7.53" fill="#0080ff" stroke="#000" stroke-width="0.7" stroke-opacity="0.85"/>
<rect x="228.65" y="439.66" width="13.0" height="7.53" fill="#008cff" stroke="#000" stroke-width="0.7" stroke-opacity="0.85"/>
<rect x="228.65" y="447.20" width="13.0" height="7.53" fill="#00a6ff" stroke="#000" stroke-width="0.7" stroke-opacity="0.85"/>
<rect x="228.65" y="454.73" width="13.0" height="7.53" fill="#00abff" stroke="#000" stroke-width="0.7" stroke-opacity="0.85"/>
<rect x="228.65" y="462.26" width="13.0" height="7.53" fill="#00a6ff" stroke="#000" stroke-width="0.7" stroke-opacity="0.85"/>
<rect x="228.65" y="469.79" width="13.0" height="7.53" fill="#00a6ff" stroke="#000" stroke-width="0.7" stroke-opacity="0.85"/>
<rect x="228.65" y="477.32" width="13.0" height="7.53" fill="#00a6ff" stroke="#000" stroke-width="0.7" stroke-opacity="0.85"/>
<rect x="228.65" y="484.85" width="13.0" height="7.53" fill="#00a6ff" stroke="#000" stroke-width="0.7" stroke-opacity="0.85"/>
<rect x="228.65" y="492.38" width="13.0" height="7.53" fill="#00a6ff" stroke="#000" stroke-width="0.7" stroke-opacity="0.85"/>
<rect x="228.65" y="499.91" width="13.0" height="7.53" fill="#00b0ff" stroke="#000" stroke-width="0.7" stroke-opacity="0.85"/>
<rect x="228.65" y="507.44" width="13.0" height="7.53" fill="#00c2ff" stroke="#000" stroke-width="0.7" stroke-opacity="0.85"/>
<rect x="228.65" y="514.98" width="13.0" height="7.53" fill="#00e5f7" stroke="#000" stroke-width="0.7" stroke-opacity="0.85"/>
<rect x="228.65" y="522.51" width="13.0" height="7.53" fill="#00c4ff" stroke="#000" stroke-width="0.7" stroke-opacity="0.85"/>
<rect x="228.65" y="530.04" width="13.0" height="7.53" fill="#00a6ff" stroke="#000" stroke-width="0.7" stroke-opacity="0.85"/>
<rect x="228.65" y="537.57" width="13.0" height="7.53" fill="#0080ff" stroke="#000" stroke-width="0.7" stroke-opacity="0.85"/>
<rect x="228.65" y="545.10" width="13.0" height="7.53" fill="#0005ff" stroke="#000" stroke-width="0.7" stroke-opacity="0.85"/>
<rect x="228.65" y="552.63" width="13.0" height="2.87" fill="#00009c" stroke="#000" stroke-width="0.7" stroke-opacity="0.85"/>
<rect x="258.88" y="326.70" width="13.0" height="7.53" fill="#0000ab" stroke="#000" stroke-width="0.7" stroke-opacity="0.85"/>
<rect x="258.88" y="334.23" width="13.0" height="7.53" fill="#0000f1" stroke="#000" stroke-width="0.7" stroke-opacity="0.85"/>
<rect x="258.88" y="341.76" width="13.0" height="7.53" fill="#0005ff" stroke="#000" stroke-width="0.7" stroke-opacity="0.85"/>
<rect x="258.88" y="349.29" width="13.0" height="7.53" fill="#0019ff" stroke="#000" stroke-width="0.7" stroke-opacity="0.85"/>
<rect x="258.88" y="356.82" width="13.0" height="7.53" fill="#0024ff" stroke="#000" stroke-width="0.7" stroke-opacity="0.85"/>
<rect x="258.88" y="364.36" width="13.0" height="7.53" fill="#002eff" stroke="#000" stroke-width="0.7" stroke-opacity="0.85"/>
<rect x="258.88" y="371.89" width="13.0" height="7.53" fill="#0038ff" stroke="#000" stroke-width="0.7" stroke-opacity="0.85"/>
<rect x="258.88" y="379.42" width="13.0" height="7.53" fill="#002eff" stroke="#000" stroke-width="0.7" stroke-opacity="0.85"/>
<rect x="258.88" y="386.95" width="13.0" height="7.53" fill="#0014ff" stroke="#000" stroke-width="0.7" stroke-opacity="0.85"/>
<rect x="258.88" y="394.48" width="13.0" height="7.53" fill="#0005ff" stroke="#000" stroke-width="0.7" stroke-opacity="0.85"/>
<rect x="258.88" y="402.01" width="13.0" height="7.53" fill="#0000ff" stroke="#000" stroke-width="0.7" stroke-opacity="0.85"/>
<rect x="258.88" y="409.54" width="13.0" height="7.53" fill="#0005ff" stroke="#000" stroke-width="0.7" stroke-opacity="0.85"/>
<rect x="258.88" y="417.07" width="13.0" height="7.53" fill="#000fff" stroke="#000" stroke-width="0.7" stroke-opacity="0.85"/>
<rect x="258.88" y="424.60" width="13.0" height="7.53" fill="#000aff" stroke="#000" stroke-width="0.7" stroke-opacity="0.85"/>
<rect x="258.88" y="432.13" width="13.0" height="7.53" fill="#0000ff" stroke="#000" stroke-width="0.7" stroke-opacity="0.85"/>
<rect x="258.88" y="439.66" width="13.0" height="7.53" fill="#0005ff" stroke="#000" stroke-width="0.7" stroke-opacity="0.85"/>
<rect x="258.88" y="447.20" width="13.0" height="7.53" fill="#000fff" stroke="#000" stroke-width="0.7" stroke-opacity="0.85"/>
<rect x="258.88" y="454.73" width="13.0" height="7.53" fill="#0019ff" stroke="#000" stroke-width="0.7" stroke-opacity="0.85"/>
<rect x="258.88" y="462.26" width="13.0" height="7.53" fill="#0024ff" stroke="#000" stroke-width="0.7" stroke-opacity="0.85"/>
<rect x="258.88" y="469.79" width="13.0" height="7.53" fill="#0024ff" stroke="#000" stroke-width="0.7" stroke-opacity="0.85"/>
<rect x="258.88" y="477.32" width="13.0" height="7.53" fill="#0024ff" stroke="#000" stroke-width="0.7" stroke-opacity="0.85"/>
<rect x="258.88" y="484.85" width="13.0" height="7.53" fill="#0019ff" stroke="#000" stroke-width="0.7" stroke-opacity="0.85"/>
<rect x="258.88" y="492.38" width="13.0" height="7.53" fill="#0005ff" stroke="#000" stroke-width="0.7" stroke-opacity="0.85"/>
<rect x="258.88" y="499.91" width="13.0" height="7.53" fill="#0000ff" stroke="#000" stroke-width="0.7" stroke-opacity="0.85"/>
<rect x="258.88" y="507.44" width="13.0" height="7.53" fill="#0000f1" stroke="#000" stroke-width="0.7" stroke-opacity="0.85"/>
<rect x="258.88" y="514.98" width="13.0" height="7.53" fill="#0000f6" stroke="#000" stroke-width="0.7" stroke-opacity="0.85"/>
<rect x="258.88" y="522.51" width="13.0" height="7.53" fill="#0000f1" stroke="#000" stroke-width="0.7" stroke-opacity="0.85"/>
<rect x="258.88" y="530.04" width="13.0" height="7.53" fill="#0000f6" stroke="#000" stroke-width="0.7" stroke-opacity="0.85"/>
<rect x="258.88" y="537.57" width="13.0" height="7.53" fill="#0000e8" stroke="#000" stroke-width="0.7" stroke-opacity="0.85"/>
<rect x="258.88" y="545.10" width="13.0" height="7.53" fill="#0000c8" stroke="#000" stroke-width="0.7" stroke-opacity="0.85"/>
<rect x="258.88" y="552.63" width="13.0" height="2.87" fill="#000088" stroke="#000" stroke-width="0.7" stroke-opacity="0.85"/>
<rect x="289.11" y="326.70" width="13.0" height="7.53" fill="#efff08" stroke="#000" stroke-width="0.7" stroke-opacity="0.85"/>
<rect x="289.11" y="334.23" width="13.0" height="7.53" fill="#f3fa04" stroke="#000" stroke-width="0.7" stroke-opacity="0.85"/>
<rect x="289.11" y="341.76" width="13.0" height="7.53" fill="#eaff0c" stroke="#000" stroke-width="0.7" stroke-opacity="0.85"/>
<rect x="289.11" y="349.29" width="13.0" height="7.53" fill="#e6ff10" stroke="#000" stroke-width="0.7" stroke-opacity="0.85"/>
<rect x="289.11" y="356.82" width="13.0" height="7.53" fill="#deff19" stroke="#000" stroke-width="0.7" stroke-opacity="0.85"/>
<rect x="289.11" y="364.36" width="13.0" height="7.53" fill="#ceff29" stroke="#000" stroke-width="0.7" stroke-opacity="0.85"/>
<rect x="289.11" y="371.89" width="13.0" height="7.53" fill="#c5ff31" stroke="#000" stroke-width="0.7" stroke-opacity="0.85"/>
<rect x="289.11" y="379.42" width="13.0" height="7.53" fill="#ceff29" stroke="#000" stroke-width="0.7" stroke-opacity="0.85"/>
<rect x="289.11" y="386.95" width="13.0" height="7.53" fill="#d6ff21" stroke="#000" stroke-width="0.7" stroke-opacity="0.85"/>
<rect x="289.11" y="394.48" width="13.0" height="7.53" fill="#e2ff15" stroke="#000" stroke-width="0.7" stroke-opacity="0.85"/>
<rect x="289.11" y="402.01" width="13.0" height="7.53" fill="#efff08" stroke="#000" stroke-width="0.7" stroke-opacity="0.85"/>
<rect x="289.11" y="409.54" width="13.0" height="7.53" fill="#ffec00" stroke="#000" stroke-width="0.7" stroke-opacity="0.85"/>
<rect x="289.11" y="417.07" width="13.0" height="7.53" fill="#ffe500" stroke="#000" stroke-width="0.7" stroke-opacity="0.85"/>
<rect x="289.11" y="424.60" width="13.0" height="7.53" fill="#ffd700" stroke="#000" stroke-width="0.7" stroke-opacity="0.85"/>
<rect x="289.11" y="432.13" width="13.0" height="7.53" fill="#ffdc00" stroke="#000" stroke-width="0.7" stroke-opacity="0.85"/>
<rect x="289.11" y="439.66" width="13.0" height="7.53" fill="#ffe000" stroke="#000" stroke-width="0.7" stroke-opacity="0.85"/>
<rect x="289.11" y="447.20" width="13.0" height="7.53" fill="#ffec00" stroke="#000" stroke-width="0.7" stroke-opacity="0.85"/>
<rect x="289.11" y="454.73" width="13.0" height="7.53" fill="#efff08" stroke="#000" stroke-width="0.7" stroke-opacity="0.85"/>
<rect x="289.11" y="462.26" width="13.0" height="7.53" fill="#e2ff15" stroke="#000" stroke-width="0.7" stroke-opacity="0.85"/>
<rect x="289.11" y="469.79" width="13.0" height="7.53" fill="#deff19" stroke="#000" stroke-width="0.7" stroke-opacity="0.85"/>
<rect x="289.11" y="477.32" width="13.0" height="7.53" fill="#d8ff1f" stroke="#000" stroke-width="0.7" stroke-opacity="0.85"/>
<rect x="289.11" y="484.85" width="13.0" height="7.53" fill="#d6ff21" stroke="#000" stroke-width="0.7" stroke-opacity="0.85"/>
<rect x="289.11" y="492.38" width="13.0" height="7.53" fill="#d6ff21" stroke="#000" stroke-width="0.7" stroke-opacity="0.85"/>
<rect x="289.11" y="499.91" width="13.0" height="7.53" fill="#d0ff27" stroke="#000" stroke-width="0.7" stroke-opacity="0.85"/>
<rect x="289.11" y="507.44" width="13.0" height="7.53" fill="#caff2d" stroke="#000" stroke-width="0.7" stroke-opacity="0.85"/>
<rect x="289.11" y="514.98" width="13.0" height="7.53" fill="#c1ff35" stroke="#000" stroke-width="0.7" stroke-opacity="0.85"/>
<rect x="289.11" y="522.51" width="13.0" height="7.53" fill="#c5ff31" stroke="#000" stroke-width="0.7" stroke-opacity="0.85"/>
<rect x="289.11" y="530.04" width="13.0" height="7.53" fill="#caff2d" stroke="#000" stroke-width="0.7" stroke-opacity="0.85"/>
<rect x="289.11" y="537.57" width="13.0" height="7.53" fill="#d2ff25" stroke="#000" stroke-width="0.7" stroke-opacity="0.85"/>
<rect x="289.11" y="545.10" width="13.0" height="7.53" fill="#d2ff25" stroke="#000" stroke-width="0.7" stroke-opacity="0.85"/>
<rect x="289.11" y="552.63" width="13.0" height="2.87" fill="#9cff5a" stroke="#000" stroke-width="0.7" stroke-opacity="0.85"/>
<rect x="319.34" y="326.70" width="13.0" height="7.53" fill="#00a6ff" stroke="#000" stroke-width="0.7" stroke-opacity="0.85"/>
<rect x="319.34" y="334.23" width="13.0" height="7.53" fill="#00a6ff" stroke="#000" stroke-width="0.7" stroke-opacity="0.85"/>
<rect x="319.34" y="341.76" width="13.0" height="7.53" fill="#009eff" stroke="#000" stroke-width="0.7" stroke-opacity="0.85"/>
<rect x="319.34" y="349.29" width="13.0" height="7.53" fill="#0096ff" stroke="#000" stroke-width="0.7" stroke-opacity="0.85"/>
<rect x="319.34" y="356.82" width="13.0" height="7.53" fill="#0091ff" stroke="#000" stroke-width="0.7" stroke-opacity="0.85"/>
<rect x="319.34" y="364.36" width="13.0" height="7.53" fill="#008cff" stroke="#000" stroke-width="0.7" stroke-opacity="0.85"/>
<rect x="319.34" y="371.89" width="13.0" height="7.53" fill="#0080ff" stroke="#000" stroke-width="0.7" stroke-opacity="0.85"/>
<rect x="319.34" y="379.42" width="13.0" height="7.53" fill="#007dff" stroke="#000" stroke-width="0.7" stroke-opacity="0.85"/>
<rect x="319.34" y="386.95" width="13.0" height="7.53" fill="#0080ff" stroke="#000" stroke-width="0.7" stroke-opacity="0.85"/>
<rect x="319.34" y="394.48" width="13.0" height="7.53" fill="#0085ff" stroke="#000" stroke-width="0.7" stroke-opacity="0.85"/>
<rect x="319.34" y="402.01" width="13.0" height="7.53" fill="#008aff" stroke="#000" stroke-width="0.7" stroke-opacity="0.85"/>
<rect x="319.34" y="409.54" width="13.0" height="7.53" fill="#0094ff" stroke="#000" stroke-width="0.7" stroke-opacity="0.85"/>
<rect x="319.34" y="417.07" width="13.0" height="7.53" fill="#00abff" stroke="#000" stroke-width="0.7" stroke-opacity="0.85"/>
<rect x="319.34" y="424.60" width="13.0" height="7.53" fill="#00c4ff" stroke="#000" stroke-width="0.7" stroke-opacity="0.85"/>
<rect x="319.34" y="432.13" width="13.0" height="7.53" fill="#00d1ff" stroke="#000" stroke-width="0.7" stroke-opacity="0.85"/>
<rect x="319.34" y="439.66" width="13.0" height="7.53" fill="#00c4ff" stroke="#000" stroke-width="0.7" stroke-opacity="0.85"/>
<rect x="319.34" y="447.20" width="13.0" height="7.53" fill="#00bfff" stroke="#000" stroke-width="0.7" stroke-opacity="0.85"/>
<rect x="319.34" y="454.73" width="13.0" height="7.53" fill="#00b5ff" stroke="#000" stroke-width="0.7" stroke-opacity="0.85"/>
<rect x="319.34" y="462.26" width="13.0" height="7.53" fill="#00abff" stroke="#000" stroke-width="0.7" stroke-opacity="0.85"/>
<rect x="319.34" y="469.79" width="13.0" height="7.53" fill="#00a1ff" stroke="#000" stroke-width="0.7" stroke-opacity="0.85"/>
<rect x="319.34" y="477.32" width="13.0" height="7.53" fill="#009cff" stroke="#000" stroke-width="0.7" stroke-opacity="0.85"/>
<rect x="319.34" y="484.85" width="13.0" height="7.53" fill="#00a1ff" stroke="#000" stroke-width="0.7" stroke-opacity="0.85"/>
<rect x="319.34" y="492.38" width="13.0" height="7.53" fill="#00abff" stroke="#000" stroke-width="0.7" stroke-opacity="0.85"/>
<rect x="319.34" y="499.91" width="13.0" height="7.53" fill="#00baff" stroke="#000" stroke-width="0.7" stroke-opacity="0.85"/>
<rect x="319.34" y="507.44" width="13.0" height="7.53" fill="#00d1ff" stroke="#000" stroke-width="0.7" stroke-opacity="0.85"/>
<rect x="319.34" y="514.98" width="13.0" height="7.53" fill="#00ccff" stroke="#000" stroke-width="0.7" stroke-opacity="0.85"/>
<rect x="319.34" y="522.51" width="13.0" height="7.53" fill="#00b5ff" stroke="#000" stroke-width="0.7" stroke-opacity="0.85"/>
<rect x="319.34" y="530.04" width="13.0" height="7.53" fill="#0096ff" stroke="#000" stroke-width="0.7" stroke-opacity="0.85"/>
<rect x="319.34" y="537.57" width="13.0" height="7.53" fill="#006eff" stroke="#000" stroke-width="0.7" stroke-opacity="0.85"/>
<rect x="319.34" y="545.10" width="13.0" height="7.53" fill="#0038ff" stroke="#000" stroke-width="0.7" stroke-opacity="0.85"/>
<rect x="319.34" y="552.63" width="13.0" height="2.87" fill="#00009c" stroke="#000" stroke-width="0.7" stroke-opacity="0.85"/>
<rect x="349.57" y="326.70" width="13.0" height="7.53" fill="#0078ff" stroke="#000" stroke-width="0.7" stroke-opacity="0.85"/>
<rect x="349.57" y="334.23" width="13.0" height="7.53" fill="#0069ff" stroke="#000" stroke-width="0.7" stroke-opacity="0.85"/>
<rect x="349.57" y="341.76" width="13.0" height="7.53" fill="#0063ff" stroke="#000" stroke-width="0.7" stroke-opacity="0.85"/>
<rect x="349.57" y="349.29" width="13.0" height="7.53" fill="#0073ff" stroke="#000" stroke-width="0.7" stroke-opacity="0.85"/>
<rect x="349.57" y="356.82" width="13.0" height="7.53" fill="#007dff" stroke="#000" stroke-width="0.7" stroke-opacity="0.85"/>
<rect x="349.57" y="364.36" width="13.0" height="7.53" fill="#008cff" stroke="#000" stroke-width="0.7" stroke-opacity="0.85"/>
<rect x="349.57" y="371.89" width="13.0" height="7.53" fill="#0096ff" stroke="#000" stroke-width="0.7" stroke-opacity="0.85"/>
<rect x="349.57" y="379.42" width="13.0" height="7.53" fill="#00a6ff" stroke="#000" stroke-width="0.7" stroke-opacity="0.85"/>
<rect x="349.57" y="386.95" width="13.0" height="7.53" fill="#00a6ff" stroke="#000" stroke-width="0.7" stroke-opacity="0.85"/>
<rect x="349.57" y="394.48" width="13.0" height="7.53" fill="#00abff" stroke="#000" stroke-width="0.7" stroke-opacity="0.85"/>
<rect x="349.57" y="402.01" width="13.0" height="7.53" fill="#00b0ff" stroke="#000" stroke-width="0.7" stroke-opacity="0.85"/>
<rect x="349.57" y="409.54" width="13.0" height="7.53" fill="#00b0ff" stroke="#000" stroke-width="0.7" stroke-opacity="0.85"/>
<rect x="349.57" y="417.07" width="13.0" height="7.53" fill="#00b0ff" stroke="#000" stroke-width="0.7" stroke-opacity="0.85"/>
<rect x="349.57" y="424.60" width="13.0" height="7.53" fill="#00b0ff" stroke="#000" stroke-width="0.7" stroke-opacity="0.85"/>
<rect x="349.57" y="432.13" width="13.0" height="7.53" fill="#00b0ff" stroke="#000" stroke-width="0.7" stroke-opacity="0.85"/>
<rect x="349.57" y="439.66" width="13.0" height="7.53" fill="#00b0ff" stroke="#000" stroke-width="0.7" stroke-opacity="0.85"/>
<rect x="349.57" y="447.20" width="13.0" height="7.53" fill="#00abff" stroke="#000" stroke-width="0.7" stroke-opacity="0.85"/>
<rect x="349.57" y="454.73" width="13.0" height="7.53" fill="#00a6ff" stroke="#000" stroke-width="0.7" stroke-opacity="0.85"/>
<rect x="349.57" y="462.26" width="13.0" height="7.53" fill="#009cff" stroke="#000" stroke-width="0.7" stroke-opacity="0.85"/>
<rect x="349.57" y="469.79" width="13.0" height="7.53" fill="#0096ff" stroke="#000" stroke-width="0.7" stroke-opacity="0.85"/>
<rect x="349.57" y="477.32" width="13.0" height="7.53" fill="#0091ff" stroke="#000" stroke-width="0.7" stroke-opacity="0.85"/>
<rect x="349.57" y="484.85" width="13.0" height="7.53" fill="#008cff" stroke="#000" stroke-width="0.7" stroke-opacity="0.85"/>
<rect x="349.57" y="492.38" width="13.0" height="7.53" fill="#0078ff" stroke="#000" stroke-width="0.7" stroke-opacity="0.85"/>
<rect x="349.57" y="499.91" width="13.0" height="7.53" fill="#0073ff" stroke="#000" stroke-width="0.7" stroke-opacity="0.85"/>
<rect x="349.57" y="507.44" width="13.0" height="7.53" fill="#0078ff" stroke="#000" stroke-width="0.7" stroke-opacity="0.85"/>
<rect x="349.57" y="514.98" width="13.0" height="7.53" fill="#0080ff" stroke="#000" stroke-width="0.7" stroke-opacity="0.85"/>
<rect x="349.57" y="522.51" width="13.0" height="7.53" fill="#0091ff" stroke="#000" stroke-width="0.7" stroke-opacity="0.85"/>
<rect x="349.57" y="530.04" width="13.0" height="7.53" fill="#00a1ff" stroke="#000" stroke-width="0.7" stroke-opacity="0.85"/>
<rect x="349.57" y="537.57" width="13.0" height="7.53" fill="#00abff" stroke="#000" stroke-width="0.7" stroke-opacity="0.85"/>
<rect x="349.57" y="545.10" width="13.0" height="7.53" fill="#009cff" stroke="#000" stroke-width="0.7" stroke-opacity="0.85"/>
<rect x="349.57" y="552.63" width="13.0" height="2.87" fill="#0063ff" stroke="#000" stroke-width="0.7" stroke-opacity="0.85"/>
<rect x="379.80" y="326.70" width="13.0" height="7.53" fill="#ffcd00" stroke="#000" stroke-width="0.7" stroke-opacity="0.85"/>
<rect x="379.80" y="334.23" width="13.0" height="7.53" fill="#ffe000" stroke="#000" stroke-width="0.7" stroke-opacity="0.85"/>
<rect x="379.80" y="341.76" width="13.0" height="7.53" fill="#ffea00" stroke="#000" stroke-width="0.7" stroke-opacity="0.85"/>
<rect x="379.80" y="349.29" width="13.0" height="7.53" fill="#ffe000" stroke="#000" stroke-width="0.7" stroke-opacity="0.85"/>
<rect x="379.80" y="356.82" width="13.0" height="7.53" fill="#ffd700" stroke="#000" stroke-width="0.7" stroke-opacity="0.85"/>
<rect x="379.80" y="364.36" width="13.0" height="7.53" fill="#ffcb00" stroke="#000" stroke-width="0.7" stroke-opacity="0.85"/>
<rect x="379.80" y="371.89" width="13.0" height="7.53" fill="#ffbd00" stroke="#000" stroke-width="0.7" stroke-opacity="0.85"/>
<rect x="379.80" y="379.42" width="13.0" height="7.53" fill="#ffb100" stroke="#000" stroke-width="0.7" stroke-opacity="0.85"/>
<rect x="379.80" y="386.95" width="13.0" height="7.53" fill="#ff9e00" stroke="#000" stroke-width="0.7" stroke-opacity="0.85"/>
<rect x="379.80" y="394.48" width="13.0" height="7.53" fill="#ff9700" stroke="#000" stroke-width="0.7" stroke-opacity="0.85"/>
<rect x="379.80" y="402.01" width="13.0" height="7.53" fill="#ff8e00" stroke="#000" stroke-width="0.7" stroke-opacity="0.85"/>
<rect x="379.80" y="409.54" width="13.0" height="7.53" fill="#ff8900" stroke="#000" stroke-width="0.7" stroke-opacity="0.85"/>
<rect x="379.80" y="417.07" width="13.0" height="7.53" fill="#ff8900" stroke="#000" stroke-width="0.7" stroke-opacity="0.85"/>
<rect x="379.80" y="424.60" width="13.0" height="7.53" fill="#ff8900" stroke="#000" stroke-width="0.7" stroke-opacity="0.85"/>
<rect x="379.80" y="432.13" width="13.0" height="7.53" fill="#ff8900" stroke="#000" stroke-width="0.7" stroke-opacity="0.85"/>
<rect x="379.80" y="439.66" width="13.0" height="7.53" fill="#ff8e00" stroke="#000" stroke-width="0.7" stroke-opacity="0.85"/>
<rect x="379.80" y="447.20" width="13.0" height="7.53" fill="#ff8900" stroke="#000" stroke-width="0.7" stroke-opacity="0.85"/>
<rect x="379.80" y="454.73" width="13.0" height="7.53" fill="#ff8400" stroke="#000" stroke-width="0.7" stroke-opacity="0.85"/>
<rect x="379.80" y="462.26" width="13.0" height="7.53" fill="#ff8000" stroke="#000" stroke-width="0.7" stroke-opacity="0.85"/>
<rect x="379.80" y="469.79" width="13.0" height="7.53" fill="#ff7b00" stroke="#000" stroke-width="0.7" stroke-opacity="0.85"/>
<rect x="379.80" y="477.32" width="13.0" height="7.53" fill="#ff7100" stroke="#000" stroke-width="0.7" stroke-opacity="0.85"/>
<rect x="379.80" y="484.85" width="13.0" height="7.53" fill="#ff6600" stroke="#000" stroke-width="0.7" stroke-opacity="0.85"/>
<rect x="379.80" y="492.38" width="13.0" height="7.53" fill="#ff5c00" stroke="#000" stroke-width="0.7" stroke-opacity="0.85"/>
<rect x="379.80" y="499.91" width="13.0" height="7.53" fill="#ff5700" stroke="#000" stroke-width="0.7" stroke-opacity="0.85"/>
<rect x="379.80" y="507.44" width="13.0" height="7.53" fill="#ff5300" stroke="#000" stroke-width="0.7" stroke-opacity="0.85"/>
<rect x="379.80" y="514.98" width="13.0" height="7.53" fill="#ff4900" stroke="#000" stroke-width="0.7" stroke-opacity="0.85"/>
<rect x="379.80" y="522.51" width="13.0" height="7.53" fill="#ff4200" stroke="#000" stroke-width="0.7" stroke-opacity="0.85"/>
<rect x="379.80" y="530.04" width="13.0" height="7.53" fill="#ff3d00" stroke="#000" stroke-width="0.7" stroke-opacity="0.85"/>
<rect x="379.80" y="537.57" width="13.0" height="7.53" fill="#ff4200" stroke="#000" stroke-width="0.7" stroke-opacity="0.85"/>
<rect x="379.80" y="545.10" width="13.0" height="7.53" fill="#ff4700" stroke="#000" stroke-width="0.7" stroke-opacity="0.85"/>
<rect x="379.80" y="552.63" width="13.0" height="2.87" fill="#29ffce" stroke="#000" stroke-width="0.7" stroke-opacity="0.85"/>
<rect x="410.03" y="326.70" width="13.0" height="7.53" fill="#0038ff" stroke="#000" stroke-width="0.7" stroke-opacity="0.85"/>
<rect x="410.03" y="334.23" width="13.0" height="7.53" fill="#0080ff" stroke="#000" stroke-width="0.7" stroke-opacity="0.85"/>
<rect x="410.03" y="341.76" width="13.0" height="7.53" fill="#00baff" stroke="#000" stroke-width="0.7" stroke-opacity="0.85"/>
<rect x="410.03" y="349.29" width="13.0" height="7.53" fill="#00d1ff" stroke="#000" stroke-width="0.7" stroke-opacity="0.85"/>
<rect x="410.03" y="356.82" width="13.0" height="7.53" fill="#00ccff" stroke="#000" stroke-width="0.7" stroke-opacity="0.85"/>
<rect x="410.03" y="364.36" width="13.0" height="7.53" fill="#00c9ff" stroke="#000" stroke-width="0.7" stroke-opacity="0.85"/>
<rect x="410.03" y="371.89" width="13.0" height="7.53" fill="#00bfff" stroke="#000" stroke-width="0.7" stroke-opacity="0.85"/>
<rect x="410.03" y="379.42" width="13.0" height="7.53" fill="#00b0ff" stroke="#000" stroke-width="0.7" stroke-opacity="0.85"/>
<rect x="410.03" y="386.95" width="13.0" height="7.53" fill="#00a6ff" stroke="#000" stroke-width="0.7" stroke-opacity="0.85"/>
<rect x="410.03" y="394.48" width="13.0" height="7.53" fill="#00a6ff" stroke="#000" stroke-width="0.7" stroke-opacity="0.85"/>
<rect x="410.03" y="402.01" width="13.0" height="7.53" fill="#00a6ff" stroke="#000" stroke-width="0.7" stroke-opacity="0.85"/>
<rect x="410.03" y="409.54" width="13.0" height="7.53" fill="#00a6ff" stroke="#000" stroke-width="0.7" stroke-opacity="0.85"/>
<rect x="410.03" y="417.07" width="13.0" height="7.53" fill="#00baff" stroke="#000" stroke-width="0.7" stroke-opacity="0.85"/>
<rect x="410.03" y="424.60" width="13.0" height="7.53" fill="#00d1ff" stroke="#000" stroke-width="0.7" stroke-opacity="0.85"/>
<rect x="410.03" y="432.13" width="13.0" height="7.53" fill="#00e5f7" stroke="#000" stroke-width="0.7" stroke-opacity="0.85"/>
<rect x="410.03" y="439.66" width="13.0" height="7.53" fill="#15ffe2" stroke="#000" stroke-width="0.7" stroke-opacity="0.85"/>
<rect x="410.03" y="447.20" width="13.0" height="7.53" fill="#15ffe2" stroke="#000" stroke-width="0.7" stroke-opacity="0.85"/>
<rect x="410.03" y="454.73" width="13.0" height="7.53" fill="#0af2ec" stroke="#000" stroke-width="0.7" stroke-opacity="0.85"/>
<rect x="410.03" y="462.26" width="13.0" height="7.53" fill="#00e5f7" stroke="#000" stroke-width="0.7" stroke-opacity="0.85"/>
<rect x="410.03" y="469.79" width="13.0" height="7.53" fill="#00d1ff" stroke="#000" stroke-width="0.7" stroke-opacity="0.85"/>
<rect x="410.03" y="477.32" width="13.0" height="7.53" fill="#00c4ff" stroke="#000" stroke-width="0.7" stroke-opacity="0.85"/>
<rect x="410.03" y="484.85" width="13.0" height="7.53" fill="#00bfff" stroke="#000" stroke-width="0.7" stroke-opacity="0.85"/>
<rect x="410.03" y="492.38" width="13.0" height="7.53" fill="#00baff" stroke="#000" stroke-width="0.7" stroke-opacity="0.85"/>
<rect x="410.03" y="499.91" width="13.0" height="7.53" fill="#00bfff" stroke="#000" stroke-width="0.7" stroke-opacity="0.85"/>
<rect x="410.03" y="507.44" width="13.0" height="7.53" fill="#00baff" stroke="#000" stroke-width="0.7" stroke-opacity="0.85"/>
<rect x="410.03" y="514.98" width="13.0" height="7.53" fill="#00b5ff" stroke="#000" stroke-width="0.7" stroke-opacity="0.85"/>
<rect x="410.03" y="522.51" width="13.0" height="7.53" fill="#00b0ff" stroke="#000" stroke-width="0.7" stroke-opacity="0.85"/>
<rect x="410.03" y="530.04" width="13.0" height="7.53" fill="#00abff" stroke="#000" stroke-width="0.7" stroke-opacity="0.85"/>
<rect x="410.03" y="537.57" width="13.0" height="7.53" fill="#00b0ff" stroke="#000" stroke-width="0.7" stroke-opacity="0.85"/>
<rect x="410.03" y="545.10" width="13.0" height="7.53" fill="#00a6ff" stroke="#000" stroke-width="0.7" stroke-opacity="0.85"/>
<rect x="410.03" y="552.63" width="13.0" height="2.87" fill="#0038ff" stroke="#000" stroke-width="0.7" stroke-opacity="0.85"/>
<rect x="72" y="338.6" width="31" height="21.2" fill="#fff" fill-opacity="0.75"/>
<g fill="#000" stroke="#000" stroke-width="0" font-size="20.0"><text transform="matrix(0.8788,0,0,0.9852,73.95,355.25)" stroke-width="0.129">(</text><text transform="matrix(1.1270,0,0,1.0913,81.71,356.79)" stroke-width="0.108">b</text><text transform="matrix(0.8788,0,0,0.9852,96.02,355.25)" stroke-width="0.129">)</text></g>
<rect x="67.5" y="323.5" width="366.00" height="232.00" fill="none" stroke="#262626" stroke-width="1"/>
<line x1="63.70" y1="344.50" x2="67.5" y2="344.50" stroke="#262626" stroke-width="1"/>
<g fill="#000" stroke="#000" stroke-width="0" font-size="20.0"><text transform="matrix(0.6745,0,0,0.6912,34.28,349.66)" stroke-width="0.176">3</text><text transform="matrix(0.7023,0,0,0.6912,42.62,349.66)" stroke-width="0.172">0</text><text transform="matrix(0.7023,0,0,0.6912,51.11,349.66)" stroke-width="0.172">0</text></g>
<line x1="63.70" y1="374.50" x2="67.5" y2="374.50" stroke="#262626" stroke-width="1"/>
<g fill="#000" stroke="#000" stroke-width="0" font-size="20.0"><text transform="matrix(0.7005,0,0,0.6877,34.21,379.74)" stroke-width="0.173">4</text><text transform="matrix(0.7023,0,0,0.6912,42.62,379.80)" stroke-width="0.172">0</text><text transform="matrix(0.7023,0,0,0.6912,51.11,379.80)" stroke-width="0.172">0</text></g>
<line x1="63.70" y1="404.50" x2="67.5" y2="404.50" stroke="#262626" stroke-width="1"/>
<g fill="#000" stroke="#000" stroke-width="0" font-size="20.0"><text transform="matrix(0.6675,0,0,0.6918,34.29,409.94)" stroke-width="0.177">5</text><text transform="matrix(0.7023,0,0,0.6912,42.62,409.94)" stroke-width="0.172">0</text><text transform="matrix(0.7023,0,0,0.6912,51.11,409.94)" stroke-width="0.172">0</text></g>
<line x1="63.70" y1="434.50" x2="67.5" y2="434.50" stroke="#262626" stroke-width="1"/>
<g fill="#000" stroke="#000" stroke-width="0" font-size="20.0"><text transform="matrix(0.7249,0,0,0.6912,34.03,440.09)" stroke-width="0.169">6</text><text transform="matrix(0.7023,0,0,0.6912,42.62,440.09)" stroke-width="0.172">0</text><text transform="matrix(0.7023,0,0,0.6912,51.11,440.09)" stroke-width="0.172">0</text></g>
<line x1="63.70" y1="465.50" x2="67.5" y2="465.50" stroke="#262626" stroke-width="1"/>
<g fill="#000" stroke="#000" stroke-width="0" font-size="20.0"><text transform="matrix(0.6895,0,0,0.6877,34.20,470.17)" stroke-width="0.174">7</text><text transform="matrix(0.7023,0,0,0.6912,42.62,470.23)" stroke-width="0.172">0</text><text transform="matrix(0.7023,0,0,0.6912,51.11,470.23)" stroke-width="0.172">0</text></g>
<line x1="63.70" y1="495.50" x2="67.5" y2="495.50" stroke="#262626" stroke-width="1"/>
<g fill="#000" stroke="#000" stroke-width="0" font-size="20.0"><text transform="matrix(0.7172,0,0,0.6912,34.04,500.37)" stroke-width="0.170">8</text><text transform="matrix(0.7023,0,0,0.6912,42.62,500.37)" stroke-width="0.172">0</text><text transform="matrix(0.7023,0,0,0.6912,51.11,500.37)" stroke-width="0.172">0</text></g>
<line x1="63.70" y1="525.50" x2="67.5" y2="525.50" stroke="#262626" stroke-width="1"/>
<g fill="#000" stroke="#000" stroke-width="0" font-size="20.0"><text transform="matrix(0.7177,0,0,0.6912,34.04,530.51)" stroke-width="0.170">9</text><text transform="matrix(0.7023,0,0,0.6912,42.62,530.51)" stroke-width="0.172">0</text><text transform="matrix(0.7023,0,0,0.6912,51.11,530.51)" stroke-width="0.172">0</text></g>
<line x1="63.70" y1="555.50" x2="67.5" y2="555.50" stroke="#262626" stroke-width="1"/>
<g fill="#000" stroke="#000" stroke-width="0" font-size="20.0"><text transform="matrix(0.6675,0,0,0.6877,25.79,560.60)" stroke-width="0.177">1</text><text transform="matrix(0.7023,0,0,0.6912,34.12,560.66)" stroke-width="0.172">0</text><text transform="matrix(0.7023,0,0,0.6912,42.62,560.66)" stroke-width="0.172">0</text><text transform="matrix(0.7023,0,0,0.6912,51.11,560.66)" stroke-width="0.172">0</text></g>
<line x1="83.60" y1="555.5" x2="83.60" y2="559.70" stroke="#262626" stroke-width="1"/>
<g fill="#000" stroke="#000" stroke-width="0" font-size="20.0"><text transform="matrix(0.6550,0,0,0.7194,76.02,575.50)" stroke-width="0.175">1</text><text transform="matrix(0.6622,0,0,0.7189,84.22,575.50)" stroke-width="0.174">2</text></g>
<line x1="113.86" y1="555.5" x2="113.86" y2="559.70" stroke="#262626" stroke-width="1"/>
<g fill="#000" stroke="#000" stroke-width="0" font-size="20.0"><text transform="matrix(0.6550,0,0,0.7194,106.28,575.50)" stroke-width="0.175">1</text><text transform="matrix(0.6619,0,0,0.7231,114.61,575.56)" stroke-width="0.173">3</text></g>
<line x1="144.12" y1="555.5" x2="144.12" y2="559.70" stroke="#262626" stroke-width="1"/>
<g fill="#000" stroke="#000" stroke-width="0" font-size="20.0"><text transform="matrix(0.6550,0,0,0.7194,136.54,575.50)" stroke-width="0.175">1</text><text transform="matrix(0.6874,0,0,0.7194,144.80,575.50)" stroke-width="0.171">4</text></g>
<line x1="174.38" y1="555.5" x2="174.38" y2="559.70" stroke="#262626" stroke-width="1"/>
<g fill="#000" stroke="#000" stroke-width="0" font-size="20.0"><text transform="matrix(0.6550,0,0,0.7194,166.80,575.50)" stroke-width="0.175">1</text><text transform="matrix(0.6550,0,0,0.7237,175.14,575.56)" stroke-width="0.174">5</text></g>
<line x1="204.64" y1="555.5" x2="204.64" y2="559.70" stroke="#262626" stroke-width="1"/>
<g fill="#000" stroke="#000" stroke-width="0" font-size="20.0"><text transform="matrix(0.6550,0,0,0.7194,197.06,575.50)" stroke-width="0.175">1</text><text transform="matrix(0.7113,0,0,0.7231,205.15,575.56)" stroke-width="0.167">6</text></g>
<line x1="234.90" y1="555.5" x2="234.90" y2="559.70" stroke="#262626" stroke-width="1"/>
<g fill="#000" stroke="#000" stroke-width="0" font-size="20.0"><text transform="matrix(0.6622,0,0,0.7189,227.19,575.50)" stroke-width="0.174">2</text><text transform="matrix(0.6891,0,0,0.7231,235.50,575.56)" stroke-width="0.170">0</text></g>
<line x1="265.16" y1="555.5" x2="265.16" y2="559.70" stroke="#262626" stroke-width="1"/>
<g fill="#000" stroke="#000" stroke-width="0" font-size="20.0"><text transform="matrix(0.6622,0,0,0.7189,257.45,575.50)" stroke-width="0.174">2</text><text transform="matrix(0.6550,0,0,0.7194,265.92,575.50)" stroke-width="0.175">1</text></g>
<line x1="295.42" y1="555.5" x2="295.42" y2="559.70" stroke="#262626" stroke-width="1"/>
<g fill="#000" stroke="#000" stroke-width="0" font-size="20.0"><text transform="matrix(0.6622,0,0,0.7189,287.71,575.50)" stroke-width="0.174">2</text><text transform="matrix(0.7038,0,0,0.7231,295.94,575.56)" stroke-width="0.168">8</text></g>
<line x1="325.68" y1="555.5" x2="325.68" y2="559.70" stroke="#262626" stroke-width="1"/>
<g fill="#000" stroke="#000" stroke-width="0" font-size="20.0"><text transform="matrix(0.6622,0,0,0.7189,317.97,575.50)" stroke-width="0.174">2</text><text transform="matrix(0.7043,0,0,0.7231,326.20,575.56)" stroke-width="0.168">9</text></g>
<line x1="355.94" y1="555.5" x2="355.94" y2="559.70" stroke="#262626" stroke-width="1"/>
<g fill="#000" stroke="#000" stroke-width="0" font-size="20.0"><text transform="matrix(0.6619,0,0,0.7231,348.36,575.56)" stroke-width="0.173">3</text><text transform="matrix(0.6891,0,0,0.7231,356.54,575.56)" stroke-width="0.170">0</text></g>
<line x1="386.20" y1="555.5" x2="386.20" y2="559.70" stroke="#262626" stroke-width="1"/>
<g fill="#000" stroke="#000" stroke-width="0" font-size="20.0"><text transform="matrix(0.6891,0,0,0.7231,378.47,575.56)" stroke-width="0.170">0</text><text transform="matrix(0.6550,0,0,0.7194,386.96,575.50)" stroke-width="0.175">1</text></g>
<line x1="416.46" y1="555.5" x2="416.46" y2="559.70" stroke="#262626" stroke-width="1"/>
<g fill="#000" stroke="#000" stroke-width="0" font-size="20.0"><text transform="matrix(0.6891,0,0,0.7231,408.73,575.56)" stroke-width="0.170">0</text><text transform="matrix(0.6874,0,0,0.7194,417.14,575.50)" stroke-width="0.171">4</text></g>
<line x1="371.5" y1="555.5" x2="371.5" y2="591.5" stroke="#262626" stroke-width="1"/>
<g fill="#000" stroke="#000" stroke-width="0" font-size="20.0"><text transform="matrix(0.6169,0,0,0.6586,187.81,590.60)" stroke-width="0.188">M</text><text transform="matrix(0.5551,0,0,0.6508,198.58,590.66)" stroke-width="0.199">a</text><text transform="matrix(0.7955,0,0,0.6456,205.98,590.60)" stroke-width="0.167">r</text><text transform="matrix(0.6215,0,0,0.6508,210.92,590.66)" stroke-width="0.189">c</text><text transform="matrix(0.6807,0,0,0.6526,217.74,590.60)" stroke-width="0.180">h</text> <text transform="matrix(0.6283,0,0,0.6581,229.71,590.60)" stroke-width="0.187">2</text><text transform="matrix(0.6539,0,0,0.6620,237.59,590.65)" stroke-width="0.182">0</text><text transform="matrix(0.6283,0,0,0.6581,245.52,590.60)" stroke-width="0.187">2</text><text transform="matrix(0.6283,0,0,0.6581,253.43,590.60)" stroke-width="0.187">2</text></g>
<g fill="#000" stroke="#000" stroke-width="0" font-size="20.0"><text transform="matrix(0.6115,0,0,0.6665,374.40,590.60)" stroke-width="0.188">A</text><text transform="matrix(0.6659,0,0,0.6468,382.88,590.53)" stroke-width="0.183">p</text><text transform="matrix(0.7827,0,0,0.6533,390.49,590.60)" stroke-width="0.167">r</text><text transform="matrix(0.6115,0,0,0.6604,395.80,590.60)" stroke-width="0.189">i</text><text transform="matrix(0.6115,0,0,0.6604,399.20,590.60)" stroke-width="0.189">l</text> <text transform="matrix(0.6182,0,0,0.6660,406.42,590.60)" stroke-width="0.187">2</text><text transform="matrix(0.6433,0,0,0.6699,414.18,590.66)" stroke-width="0.183">0</text><text transform="matrix(0.6182,0,0,0.6660,421.98,590.60)" stroke-width="0.187">2</text><text transform="matrix(0.6182,0,0,0.6660,429.76,590.60)" stroke-width="0.187">2</text></g>
<g transform="translate(15.90,497.40) rotate(-90)" fill="#000" stroke="#000" stroke-width="0" font-size="20.0"><text transform="matrix(0.6193,0,0,0.7406,-0.99,0.00)" stroke-width="0.176">P</text><text transform="matrix(0.9024,0,0,0.7259,6.94,0.00)" stroke-width="0.147">r</text><text transform="matrix(0.7650,0,0,0.7318,12.50,0.06)" stroke-width="0.160">e</text><text transform="matrix(0.6807,0,0,0.7385,21.37,0.06)" stroke-width="0.169">s</text><text transform="matrix(0.6807,0,0,0.7385,28.72,0.06)" stroke-width="0.169">s</text><text transform="matrix(0.7631,0,0,0.7259,35.91,0.06)" stroke-width="0.161">u</text><text transform="matrix(0.9024,0,0,0.7259,44.73,0.00)" stroke-width="0.147">r</text><text transform="matrix(0.7650,0,0,0.7318,50.29,0.06)" stroke-width="0.160">e</text><text transform="matrix(1.0222,0,0,0.7149,58.02,-0.25)" stroke-width="0.138">,</text> <text transform="matrix(0.7627,0,0,0.7187,68.08,-0.08)" font-style="italic" stroke-width="0.162">p</text> <text transform="matrix(0.5986,0,0,0.6663,81.68,-0.98)" stroke-width="0.190">(</text><text transform="matrix(0.7721,0,0,0.7338,86.89,0.00)" stroke-width="0.159">h</text><text transform="matrix(0.6193,0,0,0.7406,96.05,0.00)" stroke-width="0.176">P</text><text transform="matrix(0.6297,0,0,0.7318,103.85,0.06)" stroke-width="0.176">a</text><text transform="matrix(0.5986,0,0,0.6663,113.21,-0.98)" stroke-width="0.190">)</text></g>
<defs><linearGradient id="jet" x1="0" y1="1" x2="0" y2="0"><stop offset="0.000" stop-color="#000080"/><stop offset="0.025" stop-color="#00009c"/><stop offset="0.050" stop-color="#0000b9"/><stop offset="0.075" stop-color="#0000d6"/><stop offset="0.100" stop-color="#0000f3"/><stop offset="0.125" stop-color="#0000ff"/><stop offset="0.150" stop-color="#0019ff"/><stop offset="0.175" stop-color="#0033ff"/><stop offset="0.200" stop-color="#004dff"/><stop offset="0.225" stop-color="#0066ff"/><stop offset="0.250" stop-color="#0080ff"/><stop offset="0.275" stop-color="#0099ff"/><stop offset="0.300" stop-color="#00b2ff"/><stop offset="0.325" stop-color="#00ccff"/><stop offset="0.350" stop-color="#00e5f7"/><stop offset="0.375" stop-color="#15ffe2"/><stop offset="0.400" stop-color="#29ffce"/><stop offset="0.425" stop-color="#3effb9"/><stop offset="0.450" stop-color="#52ffa5"/><stop offset="0.475" stop-color="#67ff90"/><stop offset="0.500" stop-color="#7bff7b"/><stop offset="0.525" stop-color="#90ff67"/><stop offset="0.550" stop-color="#a5ff52"/><stop offset="0.575" stop-color="#b9ff3e"/><stop offset="0.600" stop-color="#ceff29"/><stop offset="0.625" stop-color="#e2ff15"/><stop offset="0.650" stop-color="#f7f600"/><stop offset="0.675" stop-color="#ffde00"/><stop offset="0.700" stop-color="#ffc600"/><stop offset="0.725" stop-color="#ffaf00"/><stop offset="0.750" stop-color="#ff9700"/><stop offset="0.775" stop-color="#ff8000"/><stop offset="0.800" stop-color="#ff6800"/><stop offset="0.825" stop-color="#ff5000"/><stop offset="0.850" stop-color="#ff3900"/><stop offset="0.875" stop-color="#ff2100"/><stop offset="0.900" stop-color="#f30900"/><stop offset="0.925" stop-color="#d60000"/><stop offset="0.950" stop-color="#b90000"/><stop offset="0.975" stop-color="#9c0000"/><stop offset="1.000" stop-color="#800000"/></linearGradient></defs>
<rect x="441.7" y="363.3" width="8.80" height="165.60" fill="url(#jet)"/>
<polygon points="441.7,364.1 441.7,363.3 446.10,354.7 450.5,363.3 450.5,364.1" fill="#800000"/>
<polygon points="441.7,528.9 441.7,363.3 446.10,354.7 450.5,363.3 450.5,528.9" fill="none" stroke="#1a1a1a" stroke-width="1"/>
<line x1="450.5" y1="528.90" x2="455.00" y2="528.90" stroke="#262626" stroke-width="1"/>
<g fill="#000" stroke="#000" stroke-width="0" font-size="20.0"><text transform="matrix(0.6891,0,0,0.6912,459.50,533.56)" stroke-width="0.174">0</text></g>
<line x1="450.5" y1="489.44" x2="455.00" y2="489.44" stroke="#262626" stroke-width="1"/>
<g fill="#000" stroke="#000" stroke-width="0" font-size="20.0"><text transform="matrix(0.6550,0,0,0.6877,459.66,494.04)" stroke-width="0.179">1</text><text transform="matrix(0.6891,0,0,0.6912,467.84,494.10)" stroke-width="0.174">0</text></g>
<line x1="450.5" y1="449.98" x2="455.00" y2="449.98" stroke="#262626" stroke-width="1"/>
<g fill="#000" stroke="#000" stroke-width="0" font-size="20.0"><text transform="matrix(0.6622,0,0,0.6871,459.52,454.58)" stroke-width="0.178">2</text><text transform="matrix(0.6891,0,0,0.6912,467.84,454.64)" stroke-width="0.174">0</text></g>
<line x1="450.5" y1="410.52" x2="455.00" y2="410.52" stroke="#262626" stroke-width="1"/>
<g fill="#000" stroke="#000" stroke-width="0" font-size="20.0"><text transform="matrix(0.6619,0,0,0.6912,459.65,415.18)" stroke-width="0.177">3</text><text transform="matrix(0.6891,0,0,0.6912,467.84,415.18)" stroke-width="0.174">0</text></g>
<line x1="450.5" y1="371.06" x2="455.00" y2="371.06" stroke="#262626" stroke-width="1"/>
<g fill="#000" stroke="#000" stroke-width="0" font-size="20.0"><text transform="matrix(0.6874,0,0,0.6877,459.58,375.66)" stroke-width="0.175">4</text><text transform="matrix(0.6891,0,0,0.6912,467.84,375.72)" stroke-width="0.174">0</text></g>
<g transform="translate(492.10,567.40) rotate(-90)" fill="#000" stroke="#000" stroke-width="0" font-size="20.0"><text transform="matrix(0.5991,0,0,0.7406,-0.96,0.00)" stroke-width="0.179">F</text><text transform="matrix(0.8947,0,0,0.7259,5.72,0.00)" stroke-width="0.148">r</text><text transform="matrix(0.6243,0,0,0.7318,11.71,0.06)" stroke-width="0.177">a</text><text transform="matrix(0.6990,0,0,0.7318,20.15,0.06)" stroke-width="0.168">c</text><text transform="matrix(0.9457,0,0,0.7424,27.69,-0.15)" stroke-width="0.142">t</text><text transform="matrix(0.6990,0,0,0.7338,33.53,0.00)" stroke-width="0.168">i</text><text transform="matrix(0.7431,0,0,0.7318,37.17,0.06)" stroke-width="0.163">o</text><text transform="matrix(0.7566,0,0,0.7259,45.82,0.00)" stroke-width="0.162">n</text> <text transform="matrix(0.7431,0,0,0.7318,59.03,0.06)" stroke-width="0.163">o</text><text transform="matrix(0.9232,0,0,0.7338,67.41,0.00)" stroke-width="0.145">f</text> <text transform="matrix(0.7932,0,0,0.7259,77.00,0.00)" stroke-width="0.158">m</text><text transform="matrix(0.6243,0,0,0.7318,90.73,0.06)" stroke-width="0.177">a</text><text transform="matrix(0.9457,0,0,0.7424,99.02,-0.15)" stroke-width="0.142">t</text><text transform="matrix(0.6990,0,0,0.7318,104.65,0.06)" stroke-width="0.168">c</text><text transform="matrix(0.7656,0,0,0.7338,112.31,0.00)" stroke-width="0.160">h</text><text transform="matrix(0.6990,0,0,0.7338,121.41,0.00)" stroke-width="0.168">i</text><text transform="matrix(0.7566,0,0,0.7259,125.14,0.00)" stroke-width="0.162">n</text><text transform="matrix(0.7611,0,0,0.7235,133.89,-0.10)" stroke-width="0.162">g</text> <text transform="matrix(0.9457,0,0,0.7424,147.11,-0.15)" stroke-width="0.142">t</text><text transform="matrix(0.8947,0,0,0.7259,152.63,0.00)" stroke-width="0.148">r</text><text transform="matrix(0.6243,0,0,0.7318,158.62,0.06)" stroke-width="0.177">a</text><text transform="matrix(0.7961,0,0,0.7262,166.96,-0.11)" stroke-width="0.158">j</text><text transform="matrix(0.7585,0,0,0.7318,170.89,0.06)" stroke-width="0.161">e</text><text transform="matrix(0.6990,0,0,0.7318,179.54,0.06)" stroke-width="0.168">c</text><text transform="matrix(0.9457,0,0,0.7424,187.08,-0.15)" stroke-width="0.142">t</text><text transform="matrix(0.7431,0,0,0.7318,192.67,0.06)" stroke-width="0.163">o</text><text transform="matrix(0.8947,0,0,0.7259,201.15,0.00)" stroke-width="0.148">r</text><text transform="matrix(0.6990,0,0,0.7338,207.22,0.00)" stroke-width="0.168">i</text><text transform="matrix(0.7585,0,0,0.7318,210.85,0.06)" stroke-width="0.161">e</text><text transform="matrix(0.6749,0,0,0.7385,219.65,0.06)" stroke-width="0.170">s</text> <text transform="matrix(0.5935,0,0,0.6663,231.49,-0.98)" stroke-width="0.191">(</text><text transform="matrix(0.7160,0,0,0.7550,236.73,0.13)" stroke-width="0.163">%</text><text transform="matrix(0.5935,0,0,0.6663,250.81,-0.98)" stroke-width="0.191">)</text></g>
<rect x="74.4" y="601" width="173.8" height="21.4" rx="3" fill="#d17b7b"/>
<rect x="253.2" y="601" width="177.6" height="21.4" rx="3" fill="#58739e"/>
<g fill="#fff" stroke="#fff" stroke-width="0" font-size="20.0"><text transform="matrix(0.8529,0,0,0.8332,142.30,617.00)" font-weight="bold">W</text><text transform="matrix(0.8849,0,0,0.8332,157.87,617.00)" font-weight="bold">A</text><text transform="matrix(1.0155,0,0,0.8332,170.31,617.00)" font-weight="bold">I</text></g>
<g fill="#fff" stroke="#fff" stroke-width="0" font-size="20.0"><text transform="matrix(0.7525,0,0,0.8454,321.50,617.07)" font-weight="bold">C</text><text transform="matrix(0.9077,0,0,0.8411,332.60,617.00)" font-weight="bold">A</text><text transform="matrix(0.8579,0,0,0.8454,345.39,617.07)" font-weight="bold">O</text></g>
</g>
</svg></div></body></html>
